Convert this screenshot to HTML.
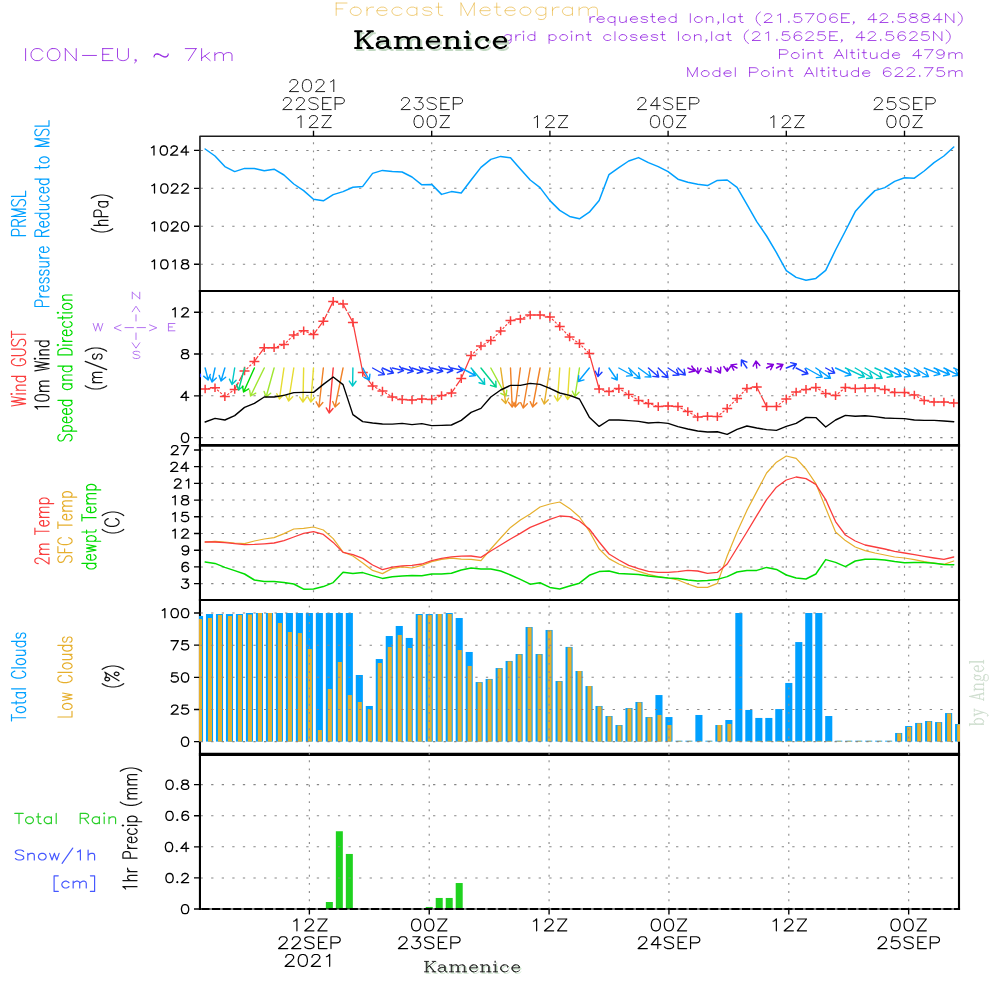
<!DOCTYPE html>
<html><head><meta charset="utf-8"><title>Forecast Meteogram Kamenice</title>
<style>html,body{margin:0;padding:0;background:#fff;font-family:"Liberation Sans",sans-serif}svg{display:block}</style></head>
<body>
<svg width="1000" height="1000" viewBox="0 0 1000 1000" fill="none" stroke-linecap="round" stroke-linejoin="round">
<rect width="1000" height="1000" fill="#fff" stroke="none"/>
<defs>
<clipPath id="cp0"><rect x="200.2" y="136.3" width="759.0" height="154.7"/></clipPath>
<clipPath id="cp1"><rect x="200.2" y="291.0" width="759.0" height="154.35000000000002"/></clipPath>
<clipPath id="cp2"><rect x="200.2" y="445.35" width="759.0" height="154.64999999999998"/></clipPath>
<clipPath id="cp3"><rect x="200.2" y="600.0" width="759.0" height="154.39999999999998"/></clipPath>
<clipPath id="cp4"><rect x="200.2" y="754.4" width="759.0" height="154.60000000000002"/></clipPath>
<clipPath id="cpb"><rect x="198.9" y="600" width="761.2" height="154"/></clipPath>
</defs>
<g clip-path="url(#cp4)" stroke="none">
<rect x="325.85" y="902" width="7" height="7" fill="#1fd21f"/>
<rect x="335.84" y="831.25" width="7" height="77.75" fill="#1fd21f"/>
<rect x="345.83" y="853.95" width="7" height="55.05" fill="#1fd21f"/>
<rect x="425.73" y="906.98" width="7" height="2.02" fill="#1fd21f"/>
<rect x="435.72" y="897.96" width="7" height="11.04" fill="#1fd21f"/>
<rect x="445.71" y="897.96" width="7" height="11.04" fill="#1fd21f"/>
<rect x="455.7" y="883.03" width="7" height="25.97" fill="#1fd21f"/>
</g>
<path d="M200.58 150.4H959.2" stroke="#868686" stroke-width="1.05" stroke-dasharray="2.3 8.266" stroke-linecap="butt"/>
<path d="M200.58 188.34H959.2" stroke="#868686" stroke-width="1.05" stroke-dasharray="2.3 8.266" stroke-linecap="butt"/>
<path d="M200.58 226.28H959.2" stroke="#868686" stroke-width="1.05" stroke-dasharray="2.3 8.266" stroke-linecap="butt"/>
<path d="M200.58 264.22H959.2" stroke="#868686" stroke-width="1.05" stroke-dasharray="2.3 8.266" stroke-linecap="butt"/>
<path d="M200.58 312.2H959.2" stroke="#868686" stroke-width="1.05" stroke-dasharray="2.3 8.266" stroke-linecap="butt"/>
<path d="M200.58 354H959.2" stroke="#868686" stroke-width="1.05" stroke-dasharray="2.3 8.266" stroke-linecap="butt"/>
<path d="M200.58 395.8H959.2" stroke="#868686" stroke-width="1.05" stroke-dasharray="2.3 8.266" stroke-linecap="butt"/>
<path d="M200.58 437.6H959.2" stroke="#868686" stroke-width="1.05" stroke-dasharray="2.3 8.266" stroke-linecap="butt"/>
<path d="M200.58 583.6H959.2" stroke="#868686" stroke-width="1.05" stroke-dasharray="2.3 8.266" stroke-linecap="butt"/>
<path d="M200.58 566.9H959.2" stroke="#868686" stroke-width="1.05" stroke-dasharray="2.3 8.266" stroke-linecap="butt"/>
<path d="M200.58 550.2H959.2" stroke="#868686" stroke-width="1.05" stroke-dasharray="2.3 8.266" stroke-linecap="butt"/>
<path d="M200.58 533.5H959.2" stroke="#868686" stroke-width="1.05" stroke-dasharray="2.3 8.266" stroke-linecap="butt"/>
<path d="M200.58 516.79H959.2" stroke="#868686" stroke-width="1.05" stroke-dasharray="2.3 8.266" stroke-linecap="butt"/>
<path d="M200.58 500.09H959.2" stroke="#868686" stroke-width="1.05" stroke-dasharray="2.3 8.266" stroke-linecap="butt"/>
<path d="M200.58 483.39H959.2" stroke="#868686" stroke-width="1.05" stroke-dasharray="2.3 8.266" stroke-linecap="butt"/>
<path d="M200.58 466.69H959.2" stroke="#868686" stroke-width="1.05" stroke-dasharray="2.3 8.266" stroke-linecap="butt"/>
<path d="M200.58 449.99H959.2" stroke="#868686" stroke-width="1.05" stroke-dasharray="2.3 8.266" stroke-linecap="butt"/>
<path d="M200.58 784.6H959.2" stroke="#868686" stroke-width="1.05" stroke-dasharray="2.3 8.266" stroke-linecap="butt"/>
<path d="M200.58 815.7H959.2" stroke="#868686" stroke-width="1.05" stroke-dasharray="2.3 8.266" stroke-linecap="butt"/>
<path d="M200.58 846.8H959.2" stroke="#868686" stroke-width="1.05" stroke-dasharray="2.3 8.266" stroke-linecap="butt"/>
<path d="M200.58 877.9H959.2" stroke="#868686" stroke-width="1.05" stroke-dasharray="2.3 8.266" stroke-linecap="butt"/>
<path d="M313.5 291.37V136.3" stroke="#8e8e8e" stroke-width="1.15" stroke-dasharray="1.9 6.28" stroke-linecap="butt"/>
<path d="M313.5 445.72V291" stroke="#8e8e8e" stroke-width="1.15" stroke-dasharray="1.9 6.28" stroke-linecap="butt"/>
<path d="M313.5 600.37V445.35" stroke="#8e8e8e" stroke-width="1.15" stroke-dasharray="1.9 6.28" stroke-linecap="butt"/>
<path d="M431.7 291.37V136.3" stroke="#8e8e8e" stroke-width="1.15" stroke-dasharray="1.9 6.28" stroke-linecap="butt"/>
<path d="M431.7 445.72V291" stroke="#8e8e8e" stroke-width="1.15" stroke-dasharray="1.9 6.28" stroke-linecap="butt"/>
<path d="M431.7 600.37V445.35" stroke="#8e8e8e" stroke-width="1.15" stroke-dasharray="1.9 6.28" stroke-linecap="butt"/>
<path d="M549.9 291.37V136.3" stroke="#8e8e8e" stroke-width="1.15" stroke-dasharray="1.9 6.28" stroke-linecap="butt"/>
<path d="M549.9 445.72V291" stroke="#8e8e8e" stroke-width="1.15" stroke-dasharray="1.9 6.28" stroke-linecap="butt"/>
<path d="M549.9 600.37V445.35" stroke="#8e8e8e" stroke-width="1.15" stroke-dasharray="1.9 6.28" stroke-linecap="butt"/>
<path d="M668.1 291.37V136.3" stroke="#8e8e8e" stroke-width="1.15" stroke-dasharray="1.9 6.28" stroke-linecap="butt"/>
<path d="M668.1 445.72V291" stroke="#8e8e8e" stroke-width="1.15" stroke-dasharray="1.9 6.28" stroke-linecap="butt"/>
<path d="M668.1 600.37V445.35" stroke="#8e8e8e" stroke-width="1.15" stroke-dasharray="1.9 6.28" stroke-linecap="butt"/>
<path d="M786.3 291.37V136.3" stroke="#8e8e8e" stroke-width="1.15" stroke-dasharray="1.9 6.28" stroke-linecap="butt"/>
<path d="M786.3 445.72V291" stroke="#8e8e8e" stroke-width="1.15" stroke-dasharray="1.9 6.28" stroke-linecap="butt"/>
<path d="M786.3 600.37V445.35" stroke="#8e8e8e" stroke-width="1.15" stroke-dasharray="1.9 6.28" stroke-linecap="butt"/>
<path d="M904.5 291.37V136.3" stroke="#8e8e8e" stroke-width="1.15" stroke-dasharray="1.9 6.28" stroke-linecap="butt"/>
<path d="M904.5 445.72V291" stroke="#8e8e8e" stroke-width="1.15" stroke-dasharray="1.9 6.28" stroke-linecap="butt"/>
<path d="M904.5 600.37V445.35" stroke="#8e8e8e" stroke-width="1.15" stroke-dasharray="1.9 6.28" stroke-linecap="butt"/>
<path d="M309.38 909.37V754.4" stroke="#8e8e8e" stroke-width="1.15" stroke-dasharray="1.9 6.28" stroke-linecap="butt"/>
<path d="M429.23 909.37V754.4" stroke="#8e8e8e" stroke-width="1.15" stroke-dasharray="1.9 6.28" stroke-linecap="butt"/>
<path d="M549.09 909.37V754.4" stroke="#8e8e8e" stroke-width="1.15" stroke-dasharray="1.9 6.28" stroke-linecap="butt"/>
<path d="M668.95 909.37V754.4" stroke="#8e8e8e" stroke-width="1.15" stroke-dasharray="1.9 6.28" stroke-linecap="butt"/>
<path d="M788.8 909.37V754.4" stroke="#8e8e8e" stroke-width="1.15" stroke-dasharray="1.9 6.28" stroke-linecap="butt"/>
<path d="M908.66 909.37V754.4" stroke="#8e8e8e" stroke-width="1.15" stroke-dasharray="1.9 6.28" stroke-linecap="butt"/>
<path d="M205.15 149 215 156 224.85 166.6 234.7 171.6 244.55 168.4 254.4 168.6 264.25 170.8 274.1 169.2 283.95 175 293.8 184 303.65 190.6 313.5 199.2 323.35 200.8 333.2 194.6 343.05 191.6 352.9 187.2 362.75 186.4 372.6 173.4 382.45 170.4 392.3 171.6 402.15 172 412 177 421.85 184.8 431.7 184.4 441.55 194.4 451.4 191.6 461.25 193 471.1 180 480.95 167.4 490.8 159.4 500.65 156.4 510.5 157.8 520.35 169 530.2 180 540.05 187.6 549.9 200.6 559.75 210.4 569.6 216.4 579.45 218.8 589.3 212.2 599.15 200.4 609 174.6 618.85 167.6 628.7 161 638.55 157.6 648.4 162.6 658.25 166.6 668.1 171.6 677.95 179.2 687.8 182.2 697.65 184.2 707.5 185.6 717.35 180.4 727.2 180 737.05 187.4 746.9 204.4 756.75 221.6 766.6 236 776.45 252.7 786.3 270.6 796.15 277.4 806 280.2 815.85 278.4 825.7 270.4 835.55 250 845.4 231 855.25 211.6 865.1 200.4 874.95 190.6 884.8 187.6 894.65 181.4 904.5 177.8 914.35 178.2 924.2 171 934.05 162.6 943.9 156 953.75 147" stroke="#00a0ff" stroke-width="1.5"/>
<g clip-path="url(#cp1)">
<path d="M234.7 389.4L238.44 382.41M239.25 380.91L244.55 371M254.4 361.4L258.14 356.23M259.14 354.86L264.25 347.8M313.5 334.4L317.24 329.38M318.26 328.02L323.35 321.2M323.35 321.2L327.09 313.68M327.85 312.15L333.2 301.4M343.05 304L346.79 310.99M347.6 312.49L352.9 322.4M352.9 322.4L362.75 372.4M362.75 372.4L366.49 377.57M367.49 378.94L372.6 386M451.4 393L455.14 387.53M456.1 386.12L461.25 378.6M461.25 378.6L471.1 355.4M589.3 353.6L599.15 389M756.75 387L760.49 394.45M761.26 395.97L766.6 406.6" stroke="#fa3c3c" stroke-width="1.25" stroke-linecap="butt"/>
<path d="M205.15 389L215 387.8M215 387.8L224.85 396.6M224.85 396.6L234.7 389.4M244.55 371L254.4 361.4M264.25 347.8L274.1 347.8M274.1 347.8L283.95 344.6M283.95 344.6L293.8 335M293.8 335L303.65 330.8M303.65 330.8L313.5 334.4M333.2 301.4L343.05 304M372.6 386L382.45 391M382.45 391L392.3 397M392.3 397L402.15 399.6M402.15 399.6L412 400M412 400L421.85 399M421.85 399L431.7 399.4M431.7 399.4L441.55 395.6M441.55 395.6L451.4 393M471.1 355.4L480.95 346M480.95 346L490.8 340.4M490.8 340.4L500.65 331M500.65 331L510.5 320.6M510.5 320.6L520.35 319M520.35 319L530.2 315M530.2 315L540.05 315M540.05 315L549.9 317M549.9 317L559.75 326.4M559.75 326.4L569.6 337M569.6 337L579.45 343.6M579.45 343.6L589.3 353.6M599.15 389L609 391.6M609 391.6L618.85 388.6M618.85 388.6L628.7 394.6M628.7 394.6L638.55 400.4M638.55 400.4L648.4 403.4M648.4 403.4L658.25 406.6M658.25 406.6L668.1 406M668.1 406L677.95 406.6M677.95 406.6L687.8 411.6M687.8 411.6L697.65 417M697.65 417L707.5 416.2M707.5 416.2L717.35 416.6M717.35 416.6L727.2 408.4M727.2 408.4L737.05 398.6M737.05 398.6L746.9 388.4M746.9 388.4L756.75 387M766.6 406.6L776.45 406.4M776.45 406.4L786.3 399M786.3 399L796.15 392M796.15 392L806 389.4M806 389.4L815.85 387.4M815.85 387.4L825.7 393.4M825.7 393.4L835.55 395.6M835.55 395.6L845.4 387.6M845.4 387.6L855.25 388.6M855.25 388.6L865.1 388.2M865.1 388.2L874.95 388M874.95 388L884.8 389.6M884.8 389.6L894.65 392.4M894.65 392.4L904.5 392.6M904.5 392.6L914.35 395M914.35 395L924.2 400.4M924.2 400.4L934.05 402M934.05 402L943.9 402M943.9 402L953.75 403" stroke="#fa3c3c" stroke-width="1.15" stroke-dasharray="2.4 1.5" stroke-dashoffset="1" stroke-linecap="butt"/>
<path d="M200.15 389h10M205.15 384.7v8.6M210 387.8h10M215 383.5v8.6M219.85 396.6h10M224.85 392.3v8.6M229.7 389.4h10M234.7 385.1v8.6M239.55 371h10M244.55 366.7v8.6M249.4 361.4h10M254.4 357.1v8.6M259.25 347.8h10M264.25 343.5v8.6M269.1 347.8h10M274.1 343.5v8.6M278.95 344.6h10M283.95 340.3v8.6M288.8 335h10M293.8 330.7v8.6M298.65 330.8h10M303.65 326.5v8.6M308.5 334.4h10M313.5 330.1v8.6M318.35 321.2h10M323.35 316.9v8.6M328.2 301.4h10M333.2 297.1v8.6M338.05 304h10M343.05 299.7v8.6M347.9 322.4h10M352.9 318.1v8.6M357.75 372.4h10M362.75 368.1v8.6M367.6 386h10M372.6 381.7v8.6M377.45 391h10M382.45 386.7v8.6M387.3 397h10M392.3 392.7v8.6M397.15 399.6h10M402.15 395.3v8.6M407 400h10M412 395.7v8.6M416.85 399h10M421.85 394.7v8.6M426.7 399.4h10M431.7 395.1v8.6M436.55 395.6h10M441.55 391.3v8.6M446.4 393h10M451.4 388.7v8.6M456.25 378.6h10M461.25 374.3v8.6M466.1 355.4h10M471.1 351.1v8.6M475.95 346h10M480.95 341.7v8.6M485.8 340.4h10M490.8 336.1v8.6M495.65 331h10M500.65 326.7v8.6M505.5 320.6h10M510.5 316.3v8.6M515.35 319h10M520.35 314.7v8.6M525.2 315h10M530.2 310.7v8.6M535.05 315h10M540.05 310.7v8.6M544.9 317h10M549.9 312.7v8.6M554.75 326.4h10M559.75 322.1v8.6M564.6 337h10M569.6 332.7v8.6M574.45 343.6h10M579.45 339.3v8.6M584.3 353.6h10M589.3 349.3v8.6M594.15 389h10M599.15 384.7v8.6M604 391.6h10M609 387.3v8.6M613.85 388.6h10M618.85 384.3v8.6M623.7 394.6h10M628.7 390.3v8.6M633.55 400.4h10M638.55 396.1v8.6M643.4 403.4h10M648.4 399.1v8.6M653.25 406.6h10M658.25 402.3v8.6M663.1 406h10M668.1 401.7v8.6M672.95 406.6h10M677.95 402.3v8.6M682.8 411.6h10M687.8 407.3v8.6M692.65 417h10M697.65 412.7v8.6M702.5 416.2h10M707.5 411.9v8.6M712.35 416.6h10M717.35 412.3v8.6M722.2 408.4h10M727.2 404.1v8.6M732.05 398.6h10M737.05 394.3v8.6M741.9 388.4h10M746.9 384.1v8.6M751.75 387h10M756.75 382.7v8.6M761.6 406.6h10M766.6 402.3v8.6M771.45 406.4h10M776.45 402.1v8.6M781.3 399h10M786.3 394.7v8.6M791.15 392h10M796.15 387.7v8.6M801 389.4h10M806 385.1v8.6M810.85 387.4h10M815.85 383.1v8.6M820.7 393.4h10M825.7 389.1v8.6M830.55 395.6h10M835.55 391.3v8.6M840.4 387.6h10M845.4 383.3v8.6M850.25 388.6h10M855.25 384.3v8.6M860.1 388.2h10M865.1 383.9v8.6M869.95 388h10M874.95 383.7v8.6M879.8 389.6h10M884.8 385.3v8.6M889.65 392.4h10M894.65 388.1v8.6M899.5 392.6h10M904.5 388.3v8.6M909.35 395h10M914.35 390.7v8.6M919.2 400.4h10M924.2 396.1v8.6M929.05 402h10M934.05 397.7v8.6M938.9 402h10M943.9 397.7v8.6M948.75 403h10M953.75 398.7v8.6" stroke="#fa3c3c" stroke-width="1.5" stroke-linecap="butt"/>
<path d="M205.15 368L208.15 380M210.26 374.49L208.15 380M203.69 376.13L208.15 380" stroke="#00a0ff" stroke-width="1.42"/>
<path d="M215 368L212 382M216.32 377.98L212 382M209.7 376.57L212 382" stroke="#00a0ff" stroke-width="1.42"/>
<path d="M224.85 368L221.05 381M225.65 377.31L221.05 381M219.16 375.41L221.05 381" stroke="#00a0ff" stroke-width="1.42"/>
<path d="M234.7 368L232 384.5M236.12 380.28L232 384.5M229.44 379.18L232 384.5" stroke="#00c8c8" stroke-width="1.42"/>
<path d="M244.55 368L238.55 390M243.09 386.23L238.55 390M236.56 384.45L238.55 390" stroke="#00d28c" stroke-width="1.42"/>
<path d="M254.4 368L243.6 392M248.67 388.98L243.6 392M242.5 386.2L243.6 392" stroke="#00dc00" stroke-width="1.42"/>
<path d="M264.25 368L250.55 396M255.71 393.15L250.55 396M249.63 390.17L250.55 396" stroke="#a0e632" stroke-width="1.42"/>
<path d="M274.1 368L266.1 397M270.65 393.24L266.1 397M264.12 391.44L266.1 397" stroke="#a0e632" stroke-width="1.42"/>
<path d="M283.95 368L279.45 399M283.49 394.7L279.45 399M276.8 393.73L279.45 399" stroke="#e6dc32" stroke-width="1.42"/>
<path d="M293.8 368L288.6 401M292.7 396.75L288.6 401M286.01 395.7L288.6 401" stroke="#e6dc32" stroke-width="1.42"/>
<path d="M303.65 368L302.95 402M306.43 397.24L302.95 402M299.67 397.1L302.95 402" stroke="#e6dc32" stroke-width="1.42"/>
<path d="M313.5 368L310.8 402M314.56 397.45L310.8 402M307.81 396.91L310.8 402" stroke="#e6dc32" stroke-width="1.42"/>
<path d="M323.35 368L318.95 407M322.85 402.58L318.95 407M316.13 401.82L318.95 407" stroke="#f08228" stroke-width="1.42"/>
<path d="M333.2 368L329.2 413M333 408.49L329.2 413M326.26 407.89L329.2 413" stroke="#fa3c3c" stroke-width="1.42"/>
<path d="M343.05 368L335.05 407M339.34 402.95L335.05 407M332.71 401.59L335.05 407" stroke="#f08228" stroke-width="1.42"/>
<path d="M352.9 368L352.6 386M356.06 381.22L352.6 386M349.3 381.11L352.6 386" stroke="#00c8c8" stroke-width="1.42"/>
<path d="M362.75 368L369.25 380M369.92 374.14L369.25 380M363.97 377.36L369.25 380" stroke="#00a0ff" stroke-width="1.42"/>
<path d="M372.6 368L384.4 374.5M381.8 369.2L384.4 374.5M378.53 375.13L384.4 374.5" stroke="#1e3cff" stroke-width="1.42"/>
<path d="M382.45 368L393.45 373M390.45 367.92L393.45 373M387.65 374.08L393.45 373" stroke="#1e3cff" stroke-width="1.42"/>
<path d="M392.3 368L403.49 370.67M399.57 366.25L403.49 370.67M398 372.84L403.49 370.67" stroke="#1e3cff" stroke-width="1.42"/>
<path d="M402.15 368L413.18 371.27M409.5 366.65L413.18 371.27M407.58 373.14L413.18 371.27" stroke="#1e3cff" stroke-width="1.42"/>
<path d="M412 368L422.94 371.55M419.39 366.84L422.94 371.55M417.29 373.28L422.94 371.55" stroke="#1e3cff" stroke-width="1.42"/>
<path d="M421.85 368L432.88 371.25M429.2 366.64L432.88 371.25M427.29 373.13L432.88 371.25" stroke="#1e3cff" stroke-width="1.42"/>
<path d="M431.7 368L442.73 371.25M439.05 366.64L442.73 371.25M437.14 373.13L442.73 371.25" stroke="#1e3cff" stroke-width="1.42"/>
<path d="M441.55 368L452.78 370.47M448.79 366.13L452.78 370.47M447.33 372.74L452.78 370.47" stroke="#1e3cff" stroke-width="1.42"/>
<path d="M451.4 368L462.66 370.35M458.62 366.05L462.66 370.35M457.23 372.68L462.66 370.35" stroke="#1e3cff" stroke-width="1.42"/>
<path d="M461.25 368L475.45 375.5M472.76 370.25L475.45 375.5M469.6 376.24L475.45 375.5" stroke="#00a0ff" stroke-width="1.42"/>
<path d="M471.1 368L484.7 384.3M484.2 378.42L484.7 384.3M479.01 382.76L484.7 384.3" stroke="#00c8c8" stroke-width="1.42"/>
<path d="M480.95 368L496.15 387M495.77 381.11L496.15 387M490.49 385.34L496.15 387" stroke="#00d28c" stroke-width="1.42"/>
<path d="M490.8 368L506.1 396M506.75 390.14L506.1 396M500.81 393.38L506.1 396" stroke="#a0e632" stroke-width="1.42"/>
<path d="M500.65 368L505.75 403.5M508.41 398.23L505.75 403.5M501.71 399.2L505.75 403.5" stroke="#e6af2d" stroke-width="1.42"/>
<path d="M510.5 368L512.2 407M515.37 402.02L512.2 407M508.61 402.32L512.2 407" stroke="#f08228" stroke-width="1.42"/>
<path d="M520.35 368L515.25 407M519.23 402.65L515.25 407M512.52 401.77L515.25 407" stroke="#f08228" stroke-width="1.42"/>
<path d="M530.2 368L523.2 408M527.37 403.82L523.2 408M520.7 402.66L523.2 408" stroke="#f08228" stroke-width="1.42"/>
<path d="M540.05 368L532.65 407M536.88 402.88L532.65 407M530.23 401.62L532.65 407" stroke="#f08228" stroke-width="1.42"/>
<path d="M549.9 368L544.2 404M548.3 399.76L544.2 404M541.61 398.7L544.2 404" stroke="#e6af2d" stroke-width="1.42"/>
<path d="M559.75 368L557.45 401M561.16 396.41L557.45 401M554.41 395.94L557.45 401" stroke="#e6dc32" stroke-width="1.42"/>
<path d="M569.6 368L567.6 399.5M571.28 394.89L567.6 399.5M564.53 394.46L567.6 399.5" stroke="#e6dc32" stroke-width="1.42"/>
<path d="M579.45 368L574.95 396.5M579.05 392.25L574.95 396.5M572.36 391.2L574.95 396.5" stroke="#a0e632" stroke-width="1.42"/>
<path d="M589.3 368L578.3 381.5M583.98 379.89L578.3 381.5M578.73 375.62L578.3 381.5" stroke="#00a0ff" stroke-width="1.42"/>
<path d="M599.15 368L597.95 376.5M601.98 372.19L597.95 376.5M595.27 371.24L597.95 376.5" stroke="#1e3cff" stroke-width="1.42"/>
<path d="M609 368L617.2 380M617.27 374.1L617.2 380M611.68 377.92L617.2 380" stroke="#00a0ff" stroke-width="1.42"/>
<path d="M618.85 368L632.45 375.5M629.85 370.2L632.45 375.5M626.58 376.13L632.45 375.5" stroke="#00a0ff" stroke-width="1.42"/>
<path d="M628.7 368L639.9 378.5M638.69 372.73L639.9 378.5M634.06 377.66L639.9 378.5" stroke="#00a0ff" stroke-width="1.42"/>
<path d="M638.55 368L650.95 377M649.03 371.42L650.95 377M645.05 376.9L650.95 377" stroke="#00a0ff" stroke-width="1.42"/>
<path d="M648.4 368L658.7 377M657.29 371.27L658.7 377M652.83 376.37L658.7 377" stroke="#1e3cff" stroke-width="1.42"/>
<path d="M658.25 368L667.95 377.5M666.87 371.7L667.95 377.5M662.13 376.54L667.95 377.5" stroke="#1e3cff" stroke-width="1.42"/>
<path d="M668.1 368L678.9 375M676.68 369.53L678.9 375M673 375.21L678.9 375" stroke="#1e3cff" stroke-width="1.42"/>
<path d="M677.95 368L685.25 375M684.1 369.21L685.25 375M679.42 374.1L685.25 375" stroke="#1e3cff" stroke-width="1.42"/>
<path d="M687.8 368L694.9 371M691.77 366L694.9 371M689.13 372.24L694.9 371" stroke="#8200dc" stroke-width="1.42"/>
<path d="M697.65 368L698.25 373.5M701.09 368.33L698.25 373.5M694.36 369.06L698.25 373.5" stroke="#8200dc" stroke-width="1.42"/>
<path d="M707.5 368L710.9 372.7M710.81 366.8L710.9 372.7M705.33 370.77L710.9 372.7" stroke="#8200dc" stroke-width="1.42"/>
<path d="M717.35 368L720.45 373M720.78 367.11L720.45 373M715.03 370.68L720.45 373" stroke="#8200dc" stroke-width="1.42"/>
<path d="M727.2 368L727.2 371.3M730.58 366.47L727.2 371.3M723.82 366.47L727.2 371.3" stroke="#8200dc" stroke-width="1.42"/>
<path d="M737.05 368L730.95 365M733.79 370.17L730.95 365M736.78 364.1L730.95 365" stroke="#8200dc" stroke-width="1.42"/>
<path d="M746.9 368L741.4 360M741.35 365.9L741.4 360M746.93 362.07L741.4 360" stroke="#1e3cff" stroke-width="1.42"/>
<path d="M756.75 368L755.95 361M753.14 366.19L755.95 361M759.86 365.42L755.95 361" stroke="#8200dc" stroke-width="1.42"/>
<path d="M766.6 368L773.4 364.5M767.55 363.7L773.4 364.5M770.65 369.72L773.4 364.5" stroke="#8200dc" stroke-width="1.42"/>
<path d="M776.45 368L782.95 364.5M777.09 363.81L782.95 364.5M780.3 369.77L782.95 364.5" stroke="#8200dc" stroke-width="1.42"/>
<path d="M786.3 368L796.4 364M790.66 362.63L796.4 364M793.15 368.93L796.4 364" stroke="#1e3cff" stroke-width="1.42"/>
<path d="M796.15 368L807.95 373.8M805.11 368.63L807.95 373.8M802.12 374.71L807.95 373.8" stroke="#1e3cff" stroke-width="1.42"/>
<path d="M806 368L822.2 377M819.62 371.69L822.2 377M816.33 377.61L822.2 377" stroke="#00a0ff" stroke-width="1.42"/>
<path d="M815.85 368L830.45 378.2M828.43 372.66L830.45 378.2M824.55 378.21L830.45 378.2" stroke="#00a0ff" stroke-width="1.42"/>
<path d="M825.7 368L834.7 373M832.12 367.69L834.7 373M828.83 373.61L834.7 373" stroke="#1e3cff" stroke-width="1.42"/>
<path d="M835.55 368L850.95 375M847.95 369.92L850.95 375M845.15 376.08L850.95 375" stroke="#00a0ff" stroke-width="1.42"/>
<path d="M845.4 368L864.4 376.8M861.44 371.7L864.4 376.8M858.59 377.84L864.4 376.8" stroke="#00c8c8" stroke-width="1.42"/>
<path d="M855.25 368L872.45 378M869.97 372.65L872.45 378M866.57 378.5L872.45 378" stroke="#00c8c8" stroke-width="1.42"/>
<path d="M865.1 368L882.2 378.2M879.78 372.82L882.2 378.2M876.32 378.63L882.2 378.2" stroke="#00c8c8" stroke-width="1.42"/>
<path d="M874.95 368L892.95 376.2M889.95 371.12L892.95 376.2M887.15 377.28L892.95 376.2" stroke="#00c8c8" stroke-width="1.42"/>
<path d="M884.8 368L901.2 376.2M898.39 371.01L901.2 376.2M895.36 377.07L901.2 376.2" stroke="#00a0ff" stroke-width="1.42"/>
<path d="M894.65 368L910.35 376.3M907.66 371.05L910.35 376.3M904.5 377.03L910.35 376.3" stroke="#00a0ff" stroke-width="1.42"/>
<path d="M904.5 368L919.9 375.2M916.96 370.09L919.9 375.2M914.09 376.22L919.9 375.2" stroke="#00a0ff" stroke-width="1.42"/>
<path d="M914.35 368L928.45 376.5M926.06 371.11L928.45 376.5M922.56 376.9L928.45 376.5" stroke="#00a0ff" stroke-width="1.42"/>
<path d="M924.2 368L939.9 374.2M936.65 369.28L939.9 374.2M934.16 375.57L939.9 374.2" stroke="#00a0ff" stroke-width="1.42"/>
<path d="M934.05 368L949.45 374.5M946.31 369.5L949.45 374.5M943.68 375.74L949.45 374.5" stroke="#00a0ff" stroke-width="1.42"/>
<path d="M943.9 368L958.4 375.2M955.58 370.02L958.4 375.2M952.57 376.08L958.4 375.2" stroke="#00a0ff" stroke-width="1.42"/>
<path d="M953.75 368L968.45 375M965.54 369.87L968.45 375M962.63 375.98L968.45 375" stroke="#00a0ff" stroke-width="1.42"/>
<path d="M205.15 422 215 418.4 224.85 420 234.7 415.6 244.55 407.4 254.4 403.4 264.25 397 274.1 397 283.95 395.4 293.8 392.6 303.65 392.4 313.5 392.4 323.35 384.4 333.2 377 343.05 384.6 352.9 414.6 362.75 421.6 372.6 423 382.45 424 392.3 424.1 402.15 423.4 412 424.6 421.85 423.6 431.7 425.6 441.55 425.4 451.4 425 461.25 420.4 471.1 412.4 480.95 408.4 490.8 397 500.65 390 510.5 385.4 520.35 385.4 530.2 383.4 540.05 384.4 549.9 388.4 559.75 393 569.6 395.4 579.45 399 589.3 417.2 599.15 426.4 609 420 618.85 420 628.7 420.6 638.55 421.4 648.4 423 658.25 422.4 668.1 423.4 677.95 426.6 687.8 429 697.65 431 707.5 432 717.35 431.8 727.2 434.4 737.05 429.4 746.9 426 756.75 428 766.6 429.6 776.45 430.4 786.3 426.4 796.15 423.4 806 417.4 815.85 417.6 825.7 427 835.55 420 845.4 415.4 855.25 416.2 865.1 415.8 874.95 416.6 884.8 418 894.65 418.4 904.5 418.6 914.35 420 924.2 420.4 934.05 420.4 943.9 421 953.75 421.8" stroke="#000" stroke-width="1.4"/>
</g>
<path d="M205.15 542 215 541.4 224.85 542 234.7 543 244.55 543.6 254.4 541 264.25 539 274.1 537.6 283.95 533.6 293.8 529 303.65 528.4 313.5 527 323.35 530 333.2 538.6 343.05 552 352.9 556 362.75 563 372.6 570.4 382.45 573.6 392.3 568.4 402.15 566.8 412 568 421.85 565.4 431.7 561.6 441.55 559.4 451.4 558.2 461.25 559.2 471.1 559.4 480.95 560.6 490.8 549 500.65 538 510.5 527.4 520.35 520 530.2 514 540.05 507 549.9 504 559.75 502 569.6 508.4 579.45 517 589.3 531.2 599.15 549 609 558.6 618.85 564 628.7 568 638.55 571.4 648.4 574.4 658.25 576.6 668.1 578 677.95 580 687.8 584 697.65 587.4 707.5 587.4 717.35 583.4 727.2 556 737.05 532 746.9 510.4 756.75 491.6 766.6 473 776.45 462.2 786.3 456 796.15 458.4 806 469 815.85 483.6 825.7 508 835.55 532 845.4 540.6 855.25 547 865.1 550.6 874.95 553 884.8 555 894.65 557 904.5 558 914.35 559.6 924.2 561.6 934.05 563 943.9 564.4 953.75 561" stroke="#e6af2d" stroke-width="1.2"/>
<path d="M205.15 542 215 542 224.85 542.6 234.7 543.6 244.55 544.6 254.4 544.4 264.25 543.8 274.1 543 283.95 540.6 293.8 537 303.65 533.4 313.5 531.6 323.35 534.4 333.2 542.4 343.05 552.4 352.9 554.6 362.75 558.4 372.6 565 382.45 569.6 392.3 567.2 402.15 565.8 412 565.4 421.85 564 431.7 560.6 441.55 558.4 451.4 556.8 461.25 556.2 471.1 556 480.95 557.4 490.8 551 500.65 545 510.5 539 520.35 533.4 530.2 527.4 540.05 523.4 549.9 519.4 559.75 516 569.6 516.6 579.45 521 589.3 529 599.15 542 609 554 618.85 560 628.7 565.4 638.55 568.6 648.4 571.4 658.25 572.4 668.1 572.4 677.95 571.6 687.8 570.4 697.65 571 707.5 573.4 717.35 572.4 727.2 564 737.05 548 746.9 532 756.75 515.6 766.6 499.6 776.45 487.2 786.3 480 796.15 477 806 478.6 815.85 484.4 825.7 499.6 835.55 521.6 845.4 535 855.25 541 865.1 545 874.95 547 884.8 549 894.65 551.4 904.5 553 914.35 554.6 924.2 556.4 934.05 558 943.9 559.4 953.75 557" stroke="#fa3c3c" stroke-width="1.3"/>
<path d="M205.15 562 215 563.4 224.85 567.4 234.7 570.6 244.55 574 254.4 580 264.25 581.6 274.1 581.6 283.95 582.4 293.8 584 303.65 589.2 313.5 589 323.35 586.6 333.2 582.6 343.05 572.2 352.9 573.4 362.75 572.6 372.6 575.6 382.45 578.4 392.3 576.7 402.15 575.9 412 575.4 421.85 575.8 431.7 574 441.55 574 451.4 573.2 461.25 570 471.1 568 480.95 569 490.8 569 500.65 571 510.5 575 520.35 579.4 530.2 584.2 540.05 582.8 549.9 587.4 559.75 589 569.6 586 579.45 583.2 589.3 575.3 599.15 571.6 609 571 618.85 573.4 628.7 574 638.55 574.6 648.4 576 658.25 577 668.1 578 677.95 578.4 687.8 580 697.65 581 707.5 580.6 717.35 579.4 727.2 576.6 737.05 572 746.9 570.4 756.75 570.4 766.6 567.4 776.45 569.4 786.3 575 796.15 578 806 579 815.85 574 825.7 559.6 835.55 562.4 845.4 566.6 855.25 561 865.1 559.2 874.95 559.2 884.8 560 894.65 561.6 904.5 562.8 914.35 562.4 924.2 562.4 934.05 563.2 943.9 564.4 953.75 564.8" stroke="#00dc00" stroke-width="1.5"/>
<path d="M199.95 291V136.3H958.9V291" stroke="#1c1c1c" stroke-width="1.6" stroke-linecap="butt" stroke-linejoin="round"/>
<path d="M199.95 290V910M959.0 290V910" stroke="#000" stroke-width="2.1" stroke-linecap="butt"/>
<path d="M198.89999999999998 291H960.05" stroke="#000" stroke-width="2.1" stroke-linecap="butt"/>
<path d="M198.89999999999998 445.35H960.05" stroke="#000" stroke-width="2.9" stroke-linecap="butt"/>
<path d="M198.89999999999998 600H960.05" stroke="#000" stroke-width="2.2" stroke-linecap="butt"/>
<path d="M198.89999999999998 754.4H960.05" stroke="#000" stroke-width="3.1" stroke-linecap="butt"/>
<path d="M198.89999999999998 909H960.05" stroke="#000" stroke-width="1.1" stroke-linecap="butt"/>
<path d="M201.4 909H960.05" stroke="#000" stroke-width="2.1" stroke-dasharray="8.1 2.5" stroke-linecap="butt"/>
<g clip-path="url(#cpb)" stroke="none">
<rect x="195.96" y="615.96" width="7.1" height="125.64" fill="#00a0ff"/>
<rect x="205.95" y="614.03" width="7.1" height="127.57" fill="#00a0ff"/>
<rect x="215.94" y="614.03" width="7.1" height="127.57" fill="#00a0ff"/>
<rect x="225.92" y="614.03" width="7.1" height="127.57" fill="#00a0ff"/>
<rect x="235.91" y="614.03" width="7.1" height="127.57" fill="#00a0ff"/>
<rect x="245.9" y="613" width="7.1" height="128.6" fill="#00a0ff"/>
<rect x="255.89" y="613" width="7.1" height="128.6" fill="#00a0ff"/>
<rect x="265.88" y="613" width="7.1" height="128.6" fill="#00a0ff"/>
<rect x="275.86" y="613" width="7.1" height="128.6" fill="#00a0ff"/>
<rect x="285.85" y="613" width="7.1" height="128.6" fill="#00a0ff"/>
<rect x="295.84" y="613" width="7.1" height="128.6" fill="#00a0ff"/>
<rect x="305.83" y="613" width="7.1" height="128.6" fill="#00a0ff"/>
<rect x="315.82" y="613" width="7.1" height="128.6" fill="#00a0ff"/>
<rect x="325.8" y="613" width="7.1" height="128.6" fill="#00a0ff"/>
<rect x="335.79" y="613" width="7.1" height="128.6" fill="#00a0ff"/>
<rect x="345.78" y="613" width="7.1" height="128.6" fill="#00a0ff"/>
<rect x="355.77" y="674.99" width="7.1" height="66.61" fill="#00a0ff"/>
<rect x="365.76" y="705.98" width="7.1" height="35.62" fill="#00a0ff"/>
<rect x="375.74" y="659.04" width="7.1" height="82.56" fill="#00a0ff"/>
<rect x="385.73" y="636.02" width="7.1" height="105.58" fill="#00a0ff"/>
<rect x="395.72" y="625.99" width="7.1" height="115.61" fill="#00a0ff"/>
<rect x="405.71" y="637.95" width="7.1" height="103.65" fill="#00a0ff"/>
<rect x="415.7" y="614.03" width="7.1" height="127.57" fill="#00a0ff"/>
<rect x="425.68" y="614.03" width="7.1" height="127.57" fill="#00a0ff"/>
<rect x="435.67" y="614.03" width="7.1" height="127.57" fill="#00a0ff"/>
<rect x="445.66" y="613" width="7.1" height="128.6" fill="#00a0ff"/>
<rect x="455.65" y="618.02" width="7.1" height="123.58" fill="#00a0ff"/>
<rect x="465.64" y="651.97" width="7.1" height="89.63" fill="#00a0ff"/>
<rect x="475.62" y="682.06" width="7.1" height="59.54" fill="#00a0ff"/>
<rect x="485.61" y="678.97" width="7.1" height="62.63" fill="#00a0ff"/>
<rect x="495.6" y="668.04" width="7.1" height="73.56" fill="#00a0ff"/>
<rect x="505.59" y="660.97" width="7.1" height="80.63" fill="#00a0ff"/>
<rect x="515.58" y="654.02" width="7.1" height="87.58" fill="#00a0ff"/>
<rect x="525.56" y="627.02" width="7.1" height="114.58" fill="#00a0ff"/>
<rect x="535.55" y="654.02" width="7.1" height="87.58" fill="#00a0ff"/>
<rect x="545.54" y="629.98" width="7.1" height="111.62" fill="#00a0ff"/>
<rect x="555.53" y="681.03" width="7.1" height="60.57" fill="#00a0ff"/>
<rect x="565.52" y="646.95" width="7.1" height="94.65" fill="#00a0ff"/>
<rect x="575.5" y="671" width="7.1" height="70.6" fill="#00a0ff"/>
<rect x="585.49" y="686.04" width="7.1" height="55.56" fill="#00a0ff"/>
<rect x="595.48" y="705.98" width="7.1" height="35.62" fill="#00a0ff"/>
<rect x="605.47" y="716.01" width="7.1" height="25.59" fill="#00a0ff"/>
<rect x="615.46" y="725.01" width="7.1" height="16.59" fill="#00a0ff"/>
<rect x="625.44" y="708.04" width="7.1" height="33.56" fill="#00a0ff"/>
<rect x="635.43" y="701.99" width="7.1" height="39.61" fill="#00a0ff"/>
<rect x="645.42" y="717.04" width="7.1" height="24.56" fill="#00a0ff"/>
<rect x="655.41" y="695.05" width="7.1" height="46.55" fill="#00a0ff"/>
<rect x="665.4" y="717.04" width="7.1" height="24.56" fill="#00a0ff"/>
<rect x="675.38" y="740.7" width="7.1" height="0.9" fill="#00a0ff"/>
<rect x="685.37" y="740.7" width="7.1" height="0.9" fill="#00a0ff"/>
<rect x="695.36" y="714.98" width="7.1" height="26.62" fill="#00a0ff"/>
<rect x="705.35" y="740.7" width="7.1" height="0.9" fill="#00a0ff"/>
<rect x="715.34" y="725.01" width="7.1" height="16.59" fill="#00a0ff"/>
<rect x="725.32" y="720" width="7.1" height="21.6" fill="#00a0ff"/>
<rect x="735.31" y="613" width="7.1" height="128.6" fill="#00a0ff"/>
<rect x="745.3" y="709.96" width="7.1" height="31.64" fill="#00a0ff"/>
<rect x="755.29" y="717.94" width="7.1" height="23.66" fill="#00a0ff"/>
<rect x="765.28" y="717.94" width="7.1" height="23.66" fill="#00a0ff"/>
<rect x="775.26" y="709.06" width="7.1" height="32.54" fill="#00a0ff"/>
<rect x="785.25" y="682.96" width="7.1" height="58.64" fill="#00a0ff"/>
<rect x="795.24" y="642.06" width="7.1" height="99.54" fill="#00a0ff"/>
<rect x="805.23" y="613" width="7.1" height="128.6" fill="#00a0ff"/>
<rect x="815.22" y="613" width="7.1" height="128.6" fill="#00a0ff"/>
<rect x="825.2" y="716.01" width="7.1" height="25.59" fill="#00a0ff"/>
<rect x="835.19" y="740.7" width="7.1" height="0.9" fill="#00a0ff"/>
<rect x="845.18" y="740.7" width="7.1" height="0.9" fill="#00a0ff"/>
<rect x="855.17" y="740.7" width="7.1" height="0.9" fill="#00a0ff"/>
<rect x="865.16" y="740.7" width="7.1" height="0.9" fill="#00a0ff"/>
<rect x="875.14" y="740.7" width="7.1" height="0.9" fill="#00a0ff"/>
<rect x="885.13" y="740.7" width="7.1" height="0.9" fill="#00a0ff"/>
<rect x="895.12" y="732.98" width="7.1" height="8.62" fill="#00a0ff"/>
<rect x="905.11" y="726.04" width="7.1" height="15.56" fill="#00a0ff"/>
<rect x="915.1" y="722.95" width="7.1" height="18.65" fill="#00a0ff"/>
<rect x="925.08" y="721.02" width="7.1" height="20.58" fill="#00a0ff"/>
<rect x="935.07" y="722.05" width="7.1" height="19.55" fill="#00a0ff"/>
<rect x="945.06" y="713.05" width="7.1" height="28.55" fill="#00a0ff"/>
<rect x="955.05" y="723.98" width="7.1" height="17.62" fill="#00a0ff"/>
<rect x="198.01" y="619.04" width="4.0" height="122.56" fill="#e6af2d"/>
<rect x="208" y="618.02" width="4.0" height="123.58" fill="#e6af2d"/>
<rect x="217.99" y="615.06" width="4.0" height="126.54" fill="#e6af2d"/>
<rect x="227.97" y="615.96" width="4.0" height="125.64" fill="#e6af2d"/>
<rect x="237.96" y="615.06" width="4.0" height="126.54" fill="#e6af2d"/>
<rect x="247.95" y="614.54" width="4.0" height="127.06" fill="#e6af2d"/>
<rect x="257.94" y="613" width="4.0" height="128.6" fill="#e6af2d"/>
<rect x="267.93" y="613" width="4.0" height="128.6" fill="#e6af2d"/>
<rect x="277.91" y="623.03" width="4.0" height="118.57" fill="#e6af2d"/>
<rect x="287.9" y="632.03" width="4.0" height="109.57" fill="#e6af2d"/>
<rect x="297.89" y="633.06" width="4.0" height="108.54" fill="#e6af2d"/>
<rect x="307.88" y="649.01" width="4.0" height="92.59" fill="#e6af2d"/>
<rect x="317.87" y="730.03" width="4.0" height="11.57" fill="#e6af2d"/>
<rect x="327.85" y="689" width="4.0" height="52.6" fill="#e6af2d"/>
<rect x="337.84" y="662" width="4.0" height="79.6" fill="#e6af2d"/>
<rect x="347.83" y="695.05" width="4.0" height="46.55" fill="#e6af2d"/>
<rect x="357.82" y="701.99" width="4.0" height="39.61" fill="#e6af2d"/>
<rect x="367.81" y="709.06" width="4.0" height="32.54" fill="#e6af2d"/>
<rect x="377.79" y="663.03" width="4.0" height="78.57" fill="#e6af2d"/>
<rect x="387.78" y="646.95" width="4.0" height="94.65" fill="#e6af2d"/>
<rect x="397.77" y="634.99" width="4.0" height="106.61" fill="#e6af2d"/>
<rect x="407.76" y="647.98" width="4.0" height="93.62" fill="#e6af2d"/>
<rect x="417.75" y="615.06" width="4.0" height="126.54" fill="#e6af2d"/>
<rect x="427.73" y="615.06" width="4.0" height="126.54" fill="#e6af2d"/>
<rect x="437.72" y="614.03" width="4.0" height="127.57" fill="#e6af2d"/>
<rect x="447.71" y="614.03" width="4.0" height="127.57" fill="#e6af2d"/>
<rect x="457.7" y="650.04" width="4.0" height="91.56" fill="#e6af2d"/>
<rect x="467.69" y="665.98" width="4.0" height="75.62" fill="#e6af2d"/>
<rect x="477.67" y="682.44" width="4.0" height="59.16" fill="#e6af2d"/>
<rect x="487.66" y="679.36" width="4.0" height="62.24" fill="#e6af2d"/>
<rect x="497.65" y="668.43" width="4.0" height="73.17" fill="#e6af2d"/>
<rect x="507.64" y="661.35" width="4.0" height="80.25" fill="#e6af2d"/>
<rect x="517.63" y="654.41" width="4.0" height="87.19" fill="#e6af2d"/>
<rect x="527.61" y="627.4" width="4.0" height="114.2" fill="#e6af2d"/>
<rect x="537.6" y="654.41" width="4.0" height="87.19" fill="#e6af2d"/>
<rect x="547.59" y="630.36" width="4.0" height="111.24" fill="#e6af2d"/>
<rect x="557.58" y="681.42" width="4.0" height="60.18" fill="#e6af2d"/>
<rect x="567.57" y="647.34" width="4.0" height="94.26" fill="#e6af2d"/>
<rect x="577.55" y="671" width="4.0" height="70.6" fill="#e6af2d"/>
<rect x="587.54" y="686.04" width="4.0" height="55.56" fill="#e6af2d"/>
<rect x="597.53" y="706.36" width="4.0" height="35.24" fill="#e6af2d"/>
<rect x="607.52" y="716.39" width="4.0" height="25.21" fill="#e6af2d"/>
<rect x="617.51" y="725.4" width="4.0" height="16.2" fill="#e6af2d"/>
<rect x="627.49" y="708.42" width="4.0" height="33.18" fill="#e6af2d"/>
<rect x="637.48" y="702.38" width="4.0" height="39.22" fill="#e6af2d"/>
<rect x="647.47" y="717.42" width="4.0" height="24.18" fill="#e6af2d"/>
<rect x="657.46" y="714.98" width="4.0" height="26.62" fill="#e6af2d"/>
<rect x="667.45" y="725.01" width="4.0" height="16.59" fill="#e6af2d"/>
<rect x="677.43" y="740.83" width="4.0" height="0.77" fill="#e6af2d"/>
<rect x="687.42" y="740.83" width="4.0" height="0.77" fill="#e6af2d"/>
<rect x="697.41" y="740.83" width="4.0" height="0.77" fill="#e6af2d"/>
<rect x="707.4" y="740.83" width="4.0" height="0.77" fill="#e6af2d"/>
<rect x="717.39" y="725.01" width="4.0" height="16.59" fill="#e6af2d"/>
<rect x="727.37" y="723.98" width="4.0" height="17.62" fill="#e6af2d"/>
<rect x="737.36" y="740.83" width="4.0" height="0.77" fill="#e6af2d"/>
<rect x="747.35" y="740.83" width="4.0" height="0.77" fill="#e6af2d"/>
<rect x="757.34" y="740.83" width="4.0" height="0.77" fill="#e6af2d"/>
<rect x="767.33" y="740.83" width="4.0" height="0.77" fill="#e6af2d"/>
<rect x="777.31" y="740.83" width="4.0" height="0.77" fill="#e6af2d"/>
<rect x="787.3" y="740.83" width="4.0" height="0.77" fill="#e6af2d"/>
<rect x="797.29" y="740.83" width="4.0" height="0.77" fill="#e6af2d"/>
<rect x="807.28" y="740.83" width="4.0" height="0.77" fill="#e6af2d"/>
<rect x="817.27" y="740.83" width="4.0" height="0.77" fill="#e6af2d"/>
<rect x="827.25" y="740.83" width="4.0" height="0.77" fill="#e6af2d"/>
<rect x="837.24" y="740.83" width="4.0" height="0.77" fill="#e6af2d"/>
<rect x="847.23" y="740.83" width="4.0" height="0.77" fill="#e6af2d"/>
<rect x="857.22" y="740.83" width="4.0" height="0.77" fill="#e6af2d"/>
<rect x="867.21" y="740.83" width="4.0" height="0.77" fill="#e6af2d"/>
<rect x="877.19" y="740.83" width="4.0" height="0.77" fill="#e6af2d"/>
<rect x="887.18" y="740.83" width="4.0" height="0.77" fill="#e6af2d"/>
<rect x="897.17" y="733.37" width="4.0" height="8.23" fill="#e6af2d"/>
<rect x="907.16" y="726.94" width="4.0" height="14.66" fill="#e6af2d"/>
<rect x="917.15" y="723.34" width="4.0" height="18.26" fill="#e6af2d"/>
<rect x="927.13" y="721.41" width="4.0" height="20.19" fill="#e6af2d"/>
<rect x="937.12" y="722.44" width="4.0" height="19.16" fill="#e6af2d"/>
<rect x="947.11" y="713.44" width="4.0" height="28.16" fill="#e6af2d"/>
<rect x="957.1" y="724.37" width="4.0" height="17.23" fill="#e6af2d"/>
</g>
<path d="M200.58 613H959.2" stroke="#868686" stroke-width="1.05" stroke-dasharray="2.3 8.266" stroke-linecap="butt"/>
<path d="M200.58 645.15H959.2" stroke="#868686" stroke-width="1.05" stroke-dasharray="2.3 8.266" stroke-linecap="butt"/>
<path d="M200.58 677.3H959.2" stroke="#868686" stroke-width="1.05" stroke-dasharray="2.3 8.266" stroke-linecap="butt"/>
<path d="M200.58 709.45H959.2" stroke="#868686" stroke-width="1.05" stroke-dasharray="2.3 8.266" stroke-linecap="butt"/>
<path d="M200.58 741.6H959.2" stroke="#868686" stroke-width="1.05" stroke-dasharray="2.3 8.266" stroke-linecap="butt"/>
<path d="M309.38 754.77V600" stroke="#8e8e8e" stroke-width="1.15" stroke-dasharray="1.9 6.28" stroke-linecap="butt"/>
<path d="M429.23 754.77V600" stroke="#8e8e8e" stroke-width="1.15" stroke-dasharray="1.9 6.28" stroke-linecap="butt"/>
<path d="M549.09 754.77V600" stroke="#8e8e8e" stroke-width="1.15" stroke-dasharray="1.9 6.28" stroke-linecap="butt"/>
<path d="M668.95 754.77V600" stroke="#8e8e8e" stroke-width="1.15" stroke-dasharray="1.9 6.28" stroke-linecap="butt"/>
<path d="M788.8 754.77V600" stroke="#8e8e8e" stroke-width="1.15" stroke-dasharray="1.9 6.28" stroke-linecap="butt"/>
<path d="M908.66 754.77V600" stroke="#8e8e8e" stroke-width="1.15" stroke-dasharray="1.9 6.28" stroke-linecap="butt"/>
<path d="M200.5 373.6v3.6" stroke="#1e3cff" stroke-width="1.1" stroke-linecap="butt"/>
<path d="M313.5 136.3v-5.5M431.7 136.3v-5.5M549.9 136.3v-5.5M668.1 136.3v-5.5M786.3 136.3v-5.5M904.5 136.3v-5.5M309.38 909.0v5.5M429.23 909.0v5.5M549.09 909.0v5.5M668.95 909.0v5.5M788.8 909.0v5.5M908.66 909.0v5.5M199.2 150.4h-5.2M199.2 188.34h-5.2M199.2 226.28h-5.2M199.2 264.22h-5.2M199.2 312.2h-5.2M199.2 354h-5.2M199.2 395.8h-5.2M199.2 437.6h-5.2M199.2 583.6h-5.2M199.2 566.9h-5.2M199.2 550.2h-5.2M199.2 533.5h-5.2M199.2 516.79h-5.2M199.2 500.09h-5.2M199.2 483.39h-5.2M199.2 466.69h-5.2M199.2 449.99h-5.2M199.2 613h-5.2M199.2 645.15h-5.2M199.2 677.3h-5.2M199.2 709.45h-5.2M199.2 741.6h-5.2M199.2 784.6h-5.2M199.2 815.7h-5.2M199.2 846.8h-5.2M199.2 877.9h-5.2M199.2 909h-5.2" stroke="#000" stroke-width="1.35" stroke-linecap="butt"/>
<path d="M151.4 147.73 152.44 147.3 153.99 146 153.99 155.1M163.32 146 161.76 146.43 160.73 147.73 160.21 149.9 160.21 151.2 160.73 153.37 161.76 154.67 163.32 155.1 164.35 155.1 165.91 154.67 166.94 153.37 167.46 151.2 167.46 149.9 166.94 147.73 165.91 146.43 164.35 146 163.32 146M171.09 148.17 171.09 147.73 171.61 146.87 172.12 146.43 173.16 146 175.23 146 176.27 146.43 176.79 146.87 177.3 147.73 177.3 148.6 176.79 149.47 175.75 150.77 170.57 155.1 177.82 155.1M186.11 146 180.93 152.07 188.7 152.07M186.11 146 186.11 155.1" stroke="#000" stroke-width="1.3" />
<path d="M151.92 185.67 152.96 185.24 154.51 183.94 154.51 193.04M163.84 183.94 162.28 184.37 161.25 185.67 160.73 187.84 160.73 189.14 161.25 191.31 162.28 192.61 163.84 193.04 164.87 193.04 166.43 192.61 167.46 191.31 167.98 189.14 167.98 187.84 167.46 185.67 166.43 184.37 164.87 183.94 163.84 183.94M171.61 186.11 171.61 185.67 172.12 184.81 172.64 184.37 173.68 183.94 175.75 183.94 176.79 184.37 177.3 184.81 177.82 185.67 177.82 186.54 177.3 187.41 176.27 188.71 171.09 193.04 178.34 193.04M181.97 186.11 181.97 185.67 182.48 184.81 183 184.37 184.04 183.94 186.11 183.94 187.15 184.37 187.66 184.81 188.18 185.67 188.18 186.54 187.66 187.41 186.63 188.71 181.45 193.04 188.7 193.04" stroke="#000" stroke-width="1.3" />
<path d="M151.92 223.61 152.96 223.18 154.51 221.88 154.51 230.98M163.84 221.88 162.28 222.31 161.25 223.61 160.73 225.78 160.73 227.08 161.25 229.25 162.28 230.55 163.84 230.98 164.87 230.98 166.43 230.55 167.46 229.25 167.98 227.08 167.98 225.78 167.46 223.61 166.43 222.31 164.87 221.88 163.84 221.88M171.61 224.05 171.61 223.61 172.12 222.75 172.64 222.31 173.68 221.88 175.75 221.88 176.79 222.31 177.3 222.75 177.82 223.61 177.82 224.48 177.3 225.35 176.27 226.65 171.09 230.98 178.34 230.98M184.56 221.88 183 222.31 181.97 223.61 181.45 225.78 181.45 227.08 181.97 229.25 183 230.55 184.56 230.98 185.59 230.98 187.15 230.55 188.18 229.25 188.7 227.08 188.7 225.78 188.18 223.61 187.15 222.31 185.59 221.88 184.56 221.88" stroke="#000" stroke-width="1.3" />
<path d="M151.92 261.55 152.96 261.12 154.51 259.82 154.51 268.92M163.84 259.82 162.28 260.25 161.25 261.55 160.73 263.72 160.73 265.02 161.25 267.19 162.28 268.49 163.84 268.92 164.87 268.92 166.43 268.49 167.46 267.19 167.98 265.02 167.98 263.72 167.46 261.55 166.43 260.25 164.87 259.82 163.84 259.82M172.64 261.55 173.68 261.12 175.23 259.82 175.23 268.92M184.04 259.82 182.48 260.25 181.97 261.12 181.97 261.99 182.48 262.85 183.52 263.29 185.59 263.72 187.15 264.15 188.18 265.02 188.7 265.89 188.7 267.19 188.18 268.05 187.66 268.49 186.11 268.92 184.04 268.92 182.48 268.49 181.97 268.05 181.45 267.19 181.45 265.89 181.97 265.02 183 264.15 184.56 263.72 186.63 263.29 187.66 262.85 188.18 261.99 188.18 261.12 187.66 260.25 186.11 259.82 184.04 259.82" stroke="#000" stroke-width="1.3" />
<path d="M172.64 309.53 173.68 309.1 175.23 307.8 175.23 316.9M181.97 309.97 181.97 309.53 182.48 308.67 183 308.23 184.04 307.8 186.11 307.8 187.15 308.23 187.66 308.67 188.18 309.53 188.18 310.4 187.66 311.27 186.63 312.57 181.45 316.9 188.7 316.9" stroke="#000" stroke-width="1.3" />
<path d="M184.04 349.6 182.48 350.03 181.97 350.9 181.97 351.77 182.48 352.63 183.52 353.07 185.59 353.5 187.15 353.93 188.18 354.8 188.7 355.67 188.7 356.97 188.18 357.83 187.66 358.27 186.11 358.7 184.04 358.7 182.48 358.27 181.97 357.83 181.45 356.97 181.45 355.67 181.97 354.8 183 353.93 184.56 353.5 186.63 353.07 187.66 352.63 188.18 351.77 188.18 350.9 187.66 350.03 186.11 349.6 184.04 349.6" stroke="#000" stroke-width="1.3" />
<path d="M186.11 391.4 180.93 397.47 188.7 397.47M186.11 391.4 186.11 400.5" stroke="#000" stroke-width="1.3" />
<path d="M184.56 433.2 183 433.63 181.97 434.93 181.45 437.1 181.45 438.4 181.97 440.57 183 441.87 184.56 442.3 185.59 442.3 187.15 441.87 188.18 440.57 188.7 438.4 188.7 437.1 188.18 434.93 187.15 433.63 185.59 433.2 184.56 433.2" stroke="#000" stroke-width="1.3" />
<path d="M182.48 579.2 188.18 579.2 185.07 582.67 186.63 582.67 187.66 583.1 188.18 583.53 188.7 584.83 188.7 585.7 188.18 587 187.15 587.87 185.59 588.3 184.04 588.3 182.48 587.87 181.97 587.43 181.45 586.57" stroke="#000" stroke-width="1.3" />
<path d="M188.18 563.8 187.66 562.93 186.11 562.5 185.07 562.5 183.52 562.93 182.48 564.23 181.97 566.4 181.97 568.56 182.48 570.3 183.52 571.16 185.07 571.6 185.59 571.6 187.15 571.16 188.18 570.3 188.7 569 188.7 568.56 188.18 567.26 187.15 566.4 185.59 565.96 185.07 565.96 183.52 566.4 182.48 567.26 181.97 568.56" stroke="#000" stroke-width="1.3" />
<path d="M188.7 548.83 188.18 550.13 187.15 551 185.59 551.43 185.07 551.43 183.52 551 182.48 550.13 181.97 548.83 181.97 548.4 182.48 547.1 183.52 546.23 185.07 545.8 185.59 545.8 187.15 546.23 188.18 547.1 188.7 548.83 188.7 551 188.18 553.16 187.15 554.46 185.59 554.9 184.56 554.9 183 554.46 182.48 553.6" stroke="#000" stroke-width="1.3" />
<path d="M172.64 530.83 173.68 530.4 175.23 529.1 175.23 538.2M181.97 531.26 181.97 530.83 182.48 529.96 183 529.53 184.04 529.1 186.11 529.1 187.15 529.53 187.66 529.96 188.18 530.83 188.18 531.7 187.66 532.56 186.63 533.86 181.45 538.2 188.7 538.2" stroke="#000" stroke-width="1.3" />
<path d="M172.64 514.13 173.68 513.7 175.23 512.39 175.23 521.5M187.66 512.39 182.48 512.39 181.97 516.29 182.48 515.86 184.04 515.43 185.59 515.43 187.15 515.86 188.18 516.73 188.7 518.03 188.7 518.89 188.18 520.2 187.15 521.06 185.59 521.5 184.04 521.5 182.48 521.06 181.97 520.63 181.45 519.76" stroke="#000" stroke-width="1.3" />
<path d="M172.64 497.43 173.68 496.99 175.23 495.69 175.23 504.79M184.04 495.69 182.48 496.13 181.97 496.99 181.97 497.86 182.48 498.73 183.52 499.16 185.59 499.59 187.15 500.03 188.18 500.89 188.7 501.76 188.7 503.06 188.18 503.93 187.66 504.36 186.11 504.79 184.04 504.79 182.48 504.36 181.97 503.93 181.45 503.06 181.45 501.76 181.97 500.89 183 500.03 184.56 499.59 186.63 499.16 187.66 498.73 188.18 497.86 188.18 496.99 187.66 496.13 186.11 495.69 184.04 495.69" stroke="#000" stroke-width="1.3" />
<path d="M174.71 481.16 174.71 480.73 175.23 479.86 175.75 479.43 176.79 478.99 178.86 478.99 179.89 479.43 180.41 479.86 180.93 480.73 180.93 481.59 180.41 482.46 179.38 483.76 174.2 488.09 181.45 488.09M186.11 480.73 187.15 480.29 188.7 478.99 188.7 488.09" stroke="#000" stroke-width="1.3" />
<path d="M171.09 464.46 171.09 464.03 171.61 463.16 172.12 462.73 173.16 462.29 175.23 462.29 176.27 462.73 176.79 463.16 177.3 464.03 177.3 464.89 176.79 465.76 175.75 467.06 170.57 471.39 177.82 471.39M186.11 462.29 180.93 468.36 188.7 468.36M186.11 462.29 186.11 471.39" stroke="#000" stroke-width="1.3" />
<path d="M171.61 447.76 171.61 447.32 172.12 446.46 172.64 446.02 173.68 445.59 175.75 445.59 176.79 446.02 177.3 446.46 177.82 447.32 177.82 448.19 177.3 449.06 176.27 450.36 171.09 454.69 178.34 454.69M188.7 445.59 183.52 454.69M181.45 445.59 188.7 445.59" stroke="#000" stroke-width="1.3" />
<path d="M162.28 610.33 163.32 609.9 164.87 608.6 164.87 617.7M174.2 608.6 172.64 609.03 171.61 610.33 171.09 612.5 171.09 613.8 171.61 615.97 172.64 617.27 174.2 617.7 175.23 617.7 176.79 617.27 177.82 615.97 178.34 613.8 178.34 612.5 177.82 610.33 176.79 609.03 175.23 608.6 174.2 608.6M184.56 608.6 183 609.03 181.97 610.33 181.45 612.5 181.45 613.8 181.97 615.97 183 617.27 184.56 617.7 185.59 617.7 187.15 617.27 188.18 615.97 188.7 613.8 188.7 612.5 188.18 610.33 187.15 609.03 185.59 608.6 184.56 608.6" stroke="#000" stroke-width="1.3" />
<path d="M178.34 640.75 173.16 649.85M171.09 640.75 178.34 640.75M187.66 640.75 182.48 640.75 181.97 644.65 182.48 644.22 184.04 643.78 185.59 643.78 187.15 644.22 188.18 645.08 188.7 646.38 188.7 647.25 188.18 648.55 187.15 649.42 185.59 649.85 184.04 649.85 182.48 649.42 181.97 648.98 181.45 648.12" stroke="#000" stroke-width="1.3" />
<path d="M177.3 672.9 172.12 672.9 171.61 676.8 172.12 676.37 173.68 675.93 175.23 675.93 176.79 676.37 177.82 677.23 178.34 678.53 178.34 679.4 177.82 680.7 176.79 681.57 175.23 682 173.68 682 172.12 681.57 171.61 681.13 171.09 680.27M184.56 672.9 183 673.33 181.97 674.63 181.45 676.8 181.45 678.1 181.97 680.27 183 681.57 184.56 682 185.59 682 187.15 681.57 188.18 680.27 188.7 678.1 188.7 676.8 188.18 674.63 187.15 673.33 185.59 672.9 184.56 672.9" stroke="#000" stroke-width="1.3" />
<path d="M171.61 707.22 171.61 706.78 172.12 705.92 172.64 705.48 173.68 705.05 175.75 705.05 176.79 705.48 177.3 705.92 177.82 706.78 177.82 707.65 177.3 708.52 176.27 709.82 171.09 714.15 178.34 714.15M187.66 705.05 182.48 705.05 181.97 708.95 182.48 708.52 184.04 708.08 185.59 708.08 187.15 708.52 188.18 709.38 188.7 710.68 188.7 711.55 188.18 712.85 187.15 713.72 185.59 714.15 184.04 714.15 182.48 713.72 181.97 713.28 181.45 712.42" stroke="#000" stroke-width="1.3" />
<path d="M184.56 737.2 183 737.63 181.97 738.93 181.45 741.1 181.45 742.4 181.97 744.57 183 745.87 184.56 746.3 185.59 746.3 187.15 745.87 188.18 744.57 188.7 742.4 188.7 741.1 188.18 738.93 187.15 737.63 185.59 737.2 184.56 737.2" stroke="#000" stroke-width="1.3" />
<path d="M169.02 780.2 167.46 780.63 166.43 781.93 165.91 784.1 165.91 785.4 166.43 787.57 167.46 788.87 169.02 789.3 170.05 789.3 171.61 788.87 172.64 787.57 173.16 785.4 173.16 784.1 172.64 781.93 171.61 780.63 170.05 780.2 169.02 780.2M177.3 788.43 176.79 788.87 177.3 789.3 177.82 788.87 177.3 788.43M184.04 780.2 182.48 780.63 181.97 781.5 181.97 782.37 182.48 783.23 183.52 783.67 185.59 784.1 187.15 784.53 188.18 785.4 188.7 786.27 188.7 787.57 188.18 788.43 187.66 788.87 186.11 789.3 184.04 789.3 182.48 788.87 181.97 788.43 181.45 787.57 181.45 786.27 181.97 785.4 183 784.53 184.56 784.1 186.63 783.67 187.66 783.23 188.18 782.37 188.18 781.5 187.66 780.63 186.11 780.2 184.04 780.2" stroke="#000" stroke-width="1.3" />
<path d="M169.02 811.3 167.46 811.73 166.43 813.03 165.91 815.2 165.91 816.5 166.43 818.67 167.46 819.97 169.02 820.4 170.05 820.4 171.61 819.97 172.64 818.67 173.16 816.5 173.16 815.2 172.64 813.03 171.61 811.73 170.05 811.3 169.02 811.3M177.3 819.53 176.79 819.97 177.3 820.4 177.82 819.97 177.3 819.53M188.18 812.6 187.66 811.73 186.11 811.3 185.07 811.3 183.52 811.73 182.48 813.03 181.97 815.2 181.97 817.37 182.48 819.1 183.52 819.97 185.07 820.4 185.59 820.4 187.15 819.97 188.18 819.1 188.7 817.8 188.7 817.37 188.18 816.07 187.15 815.2 185.59 814.77 185.07 814.77 183.52 815.2 182.48 816.07 181.97 817.37" stroke="#000" stroke-width="1.3" />
<path d="M168.5 842.4 166.94 842.83 165.91 844.13 165.39 846.3 165.39 847.6 165.91 849.77 166.94 851.07 168.5 851.5 169.53 851.5 171.09 851.07 172.12 849.77 172.64 847.6 172.64 846.3 172.12 844.13 171.09 842.83 169.53 842.4 168.5 842.4M176.79 850.63 176.27 851.07 176.79 851.5 177.3 851.07 176.79 850.63M186.11 842.4 180.93 848.47 188.7 848.47M186.11 842.4 186.11 851.5" stroke="#000" stroke-width="1.3" />
<path d="M169.02 873.5 167.46 873.93 166.43 875.23 165.91 877.4 165.91 878.7 166.43 880.87 167.46 882.17 169.02 882.6 170.05 882.6 171.61 882.17 172.64 880.87 173.16 878.7 173.16 877.4 172.64 875.23 171.61 873.93 170.05 873.5 169.02 873.5M177.3 881.73 176.79 882.17 177.3 882.6 177.82 882.17 177.3 881.73M181.97 875.67 181.97 875.23 182.48 874.37 183 873.93 184.04 873.5 186.11 873.5 187.15 873.93 187.66 874.37 188.18 875.23 188.18 876.1 187.66 876.97 186.63 878.27 181.45 882.6 188.7 882.6" stroke="#000" stroke-width="1.3" />
<path d="M184.56 904.6 183 905.03 181.97 906.33 181.45 908.5 181.45 909.8 181.97 911.97 183 913.27 184.56 913.7 185.59 913.7 187.15 913.27 188.18 911.97 188.7 909.8 188.7 908.5 188.18 906.33 187.15 905.03 185.59 904.6 184.56 904.6" stroke="#000" stroke-width="1.3" />
<path d="M297.78 117.89 299.09 117.31 301.06 115.6 301.06 127.6M309.57 118.46 309.57 117.89 310.23 116.74 310.88 116.17 312.19 115.6 314.81 115.6 316.12 116.17 316.78 116.74 317.43 117.89 317.43 119.03 316.78 120.17 315.47 121.89 308.92 127.6 318.09 127.6M331.19 115.6 322.02 127.6M322.02 115.6 331.19 115.6M322.02 127.6 331.19 127.6" stroke="#1a1a1a" stroke-width="1.0" />
<path d="M283.37 100.46 283.37 99.89 284.02 98.74 284.68 98.17 285.99 97.6 288.61 97.6 289.92 98.17 290.57 98.74 291.23 99.89 291.23 101.03 290.57 102.17 289.26 103.89 282.71 109.6 291.88 109.6M296.47 100.46 296.47 99.89 297.12 98.74 297.78 98.17 299.09 97.6 301.71 97.6 303.02 98.17 303.68 98.74 304.33 99.89 304.33 101.03 303.68 102.17 302.37 103.89 295.81 109.6 304.99 109.6M318.08 99.31 316.77 98.17 314.81 97.6 312.19 97.6 310.23 98.17 308.92 99.31 308.92 100.46 309.57 101.6 310.23 102.17 311.54 102.74 315.47 103.89 316.77 104.46 317.43 105.03 318.08 106.17 318.08 107.89 316.77 109.03 314.81 109.6 312.19 109.6 310.23 109.03 308.92 107.89M322.67 97.6 322.67 109.6M322.67 97.6 331.19 97.6M322.67 103.31 327.91 103.31M322.67 109.6 331.19 109.6M335.12 97.6 335.12 109.6M335.12 97.6 341.01 97.6 342.98 98.17 343.63 98.74 344.29 99.89 344.29 101.6 343.63 102.74 342.98 103.31 341.01 103.89 335.12 103.89" stroke="#1a1a1a" stroke-width="1.0" />
<path d="M289.92 82.46 289.92 81.89 290.57 80.74 291.23 80.17 292.54 79.6 295.16 79.6 296.47 80.17 297.12 80.74 297.78 81.89 297.78 83.03 297.12 84.17 295.81 85.89 289.26 91.6 298.44 91.6M306.3 79.6 304.33 80.17 303.02 81.89 302.37 84.74 302.37 86.46 303.02 89.31 304.33 91.03 306.3 91.6 307.61 91.6 309.57 91.03 310.88 89.31 311.54 86.46 311.54 84.74 310.88 81.89 309.57 80.17 307.61 79.6 306.3 79.6M316.12 82.46 316.12 81.89 316.78 80.74 317.43 80.17 318.74 79.6 321.36 79.6 322.67 80.17 323.32 80.74 323.98 81.89 323.98 83.03 323.32 84.17 322.01 85.89 315.47 91.6 324.63 91.6M330.53 81.89 331.84 81.31 333.81 79.6 333.81 91.6" stroke="#1a1a1a" stroke-width="1.0" />
<path d="M417.94 115.6 415.98 116.17 414.67 117.89 414.01 120.74 414.01 122.46 414.67 125.31 415.98 127.03 417.94 127.6 419.25 127.6 421.22 127.03 422.53 125.31 423.19 122.46 423.19 120.74 422.53 117.89 421.22 116.17 419.25 115.6 417.94 115.6M431.05 115.6 429.08 116.17 427.77 117.89 427.12 120.74 427.12 122.46 427.77 125.31 429.08 127.03 431.05 127.6 432.36 127.6 434.32 127.03 435.63 125.31 436.29 122.46 436.29 120.74 435.63 117.89 434.32 116.17 432.36 115.6 431.05 115.6M449.38 115.6 440.22 127.6M440.22 115.6 449.38 115.6M440.22 127.6 449.38 127.6" stroke="#1a1a1a" stroke-width="1.0" />
<path d="M401.57 100.46 401.57 99.89 402.22 98.74 402.88 98.17 404.19 97.6 406.81 97.6 408.12 98.17 408.77 98.74 409.43 99.89 409.43 101.03 408.77 102.17 407.46 103.89 400.91 109.6 410.08 109.6M415.32 97.6 422.53 97.6 418.6 102.17 420.56 102.17 421.88 102.74 422.53 103.31 423.19 105.03 423.19 106.17 422.53 107.89 421.22 109.03 419.25 109.6 417.29 109.6 415.32 109.03 414.67 108.46 414.01 107.31M436.28 99.31 434.97 98.17 433.01 97.6 430.39 97.6 428.43 98.17 427.12 99.31 427.12 100.46 427.77 101.6 428.43 102.17 429.74 102.74 433.66 103.89 434.97 104.46 435.63 105.03 436.28 106.17 436.28 107.89 434.97 109.03 433.01 109.6 430.39 109.6 428.43 109.03 427.12 107.89M440.87 97.6 440.87 109.6M440.87 97.6 449.38 97.6M440.87 103.31 446.11 103.31M440.87 109.6 449.38 109.6M453.31 97.6 453.31 109.6M453.31 97.6 459.21 97.6 461.18 98.17 461.83 98.74 462.49 99.89 462.49 101.6 461.83 102.74 461.18 103.31 459.21 103.89 453.31 103.89" stroke="#1a1a1a" stroke-width="1.0" />
<path d="M534.18 117.89 535.49 117.31 537.46 115.6 537.46 127.6M545.97 118.46 545.97 117.89 546.62 116.74 547.28 116.17 548.59 115.6 551.21 115.6 552.52 116.17 553.17 116.74 553.83 117.89 553.83 119.03 553.17 120.17 551.87 121.89 545.32 127.6 554.49 127.6M567.59 115.6 558.41 127.6M558.41 115.6 567.59 115.6M558.41 127.6 567.59 127.6" stroke="#1a1a1a" stroke-width="1.0" />
<path d="M654.35 115.6 652.38 116.17 651.07 117.89 650.42 120.74 650.42 122.46 651.07 125.31 652.38 127.03 654.35 127.6 655.66 127.6 657.62 127.03 658.93 125.31 659.59 122.46 659.59 120.74 658.93 117.89 657.62 116.17 655.66 115.6 654.35 115.6M667.45 115.6 665.48 116.17 664.17 117.89 663.52 120.74 663.52 122.46 664.17 125.31 665.48 127.03 667.45 127.6 668.75 127.6 670.72 127.03 672.03 125.31 672.69 122.46 672.69 120.74 672.03 117.89 670.72 116.17 668.75 115.6 667.45 115.6M685.79 115.6 676.62 127.6M676.62 115.6 685.79 115.6M676.62 127.6 685.79 127.6" stroke="#1a1a1a" stroke-width="1.0" />
<path d="M637.97 100.46 637.97 99.89 638.62 98.74 639.28 98.17 640.59 97.6 643.21 97.6 644.52 98.17 645.18 98.74 645.83 99.89 645.83 101.03 645.18 102.17 643.87 103.89 637.32 109.6 646.49 109.6M656.97 97.6 650.42 105.6 660.24 105.6M656.97 97.6 656.97 109.6M672.69 99.31 671.38 98.17 669.41 97.6 666.79 97.6 664.83 98.17 663.51 99.31 663.51 100.46 664.17 101.6 664.83 102.17 666.13 102.74 670.07 103.89 671.38 104.46 672.03 105.03 672.69 106.17 672.69 107.89 671.38 109.03 669.41 109.6 666.79 109.6 664.83 109.03 663.51 107.89M677.27 97.6 677.27 109.6M677.27 97.6 685.79 97.6M677.27 103.31 682.51 103.31M677.27 109.6 685.79 109.6M689.72 97.6 689.72 109.6M689.72 97.6 695.61 97.6 697.58 98.17 698.23 98.74 698.88 99.89 698.88 101.6 698.23 102.74 697.58 103.31 695.61 103.89 689.72 103.89" stroke="#1a1a1a" stroke-width="1.0" />
<path d="M770.58 117.89 771.89 117.31 773.86 115.6 773.86 127.6M782.37 118.46 782.37 117.89 783.02 116.74 783.68 116.17 784.99 115.6 787.61 115.6 788.92 116.17 789.57 116.74 790.23 117.89 790.23 119.03 789.57 120.17 788.26 121.89 781.72 127.6 790.88 127.6M803.99 115.6 794.81 127.6M794.81 115.6 803.99 115.6M794.81 127.6 803.99 127.6" stroke="#1a1a1a" stroke-width="1.0" />
<path d="M890.75 115.6 888.78 116.17 887.47 117.89 886.82 120.74 886.82 122.46 887.47 125.31 888.78 127.03 890.75 127.6 892.06 127.6 894.02 127.03 895.33 125.31 895.99 122.46 895.99 120.74 895.33 117.89 894.02 116.17 892.06 115.6 890.75 115.6M903.85 115.6 901.88 116.17 900.57 117.89 899.92 120.74 899.92 122.46 900.57 125.31 901.88 127.03 903.85 127.6 905.15 127.6 907.12 127.03 908.43 125.31 909.09 122.46 909.09 120.74 908.43 117.89 907.12 116.17 905.15 115.6 903.85 115.6M922.19 115.6 913.01 127.6M913.01 115.6 922.19 115.6M913.01 127.6 922.19 127.6" stroke="#1a1a1a" stroke-width="1.0" />
<path d="M874.37 100.46 874.37 99.89 875.02 98.74 875.68 98.17 876.99 97.6 879.61 97.6 880.92 98.17 881.58 98.74 882.23 99.89 882.23 101.03 881.58 102.17 880.26 103.89 873.72 109.6 882.88 109.6M894.67 97.6 888.12 97.6 887.47 102.74 888.12 102.17 890.09 101.6 892.05 101.6 894.02 102.17 895.33 103.31 895.99 105.03 895.99 106.17 895.33 107.89 894.02 109.03 892.05 109.6 890.09 109.6 888.12 109.03 887.47 108.46 886.82 107.31M909.09 99.31 907.77 98.17 905.81 97.6 903.19 97.6 901.23 98.17 899.91 99.31 899.91 100.46 900.57 101.6 901.23 102.17 902.53 102.74 906.47 103.89 907.77 104.46 908.43 105.03 909.09 106.17 909.09 107.89 907.77 109.03 905.81 109.6 903.19 109.6 901.23 109.03 899.91 107.89M913.67 97.6 913.67 109.6M913.67 97.6 922.18 97.6M913.67 103.31 918.91 103.31M913.67 109.6 922.18 109.6M926.12 97.6 926.12 109.6M926.12 97.6 932.01 97.6 933.98 98.17 934.63 98.74 935.28 99.89 935.28 101.6 934.63 102.74 933.98 103.31 932.01 103.89 926.12 103.89" stroke="#1a1a1a" stroke-width="1.0" />
<path d="M293.66 921.25 294.97 920.69 296.93 919 296.93 930.8M305.45 921.81 305.45 921.25 306.1 920.12 306.76 919.56 308.07 919 310.69 919 312 919.56 312.65 920.12 313.31 921.25 313.31 922.37 312.65 923.5 311.34 925.18 304.79 930.8 313.96 930.8M327.06 919 317.89 930.8M317.89 919 327.06 919M317.89 930.8 327.06 930.8" stroke="#000" stroke-width="1.2" />
<path d="M279.25 939.56 279.25 939 279.9 937.87 280.56 937.31 281.87 936.75 284.49 936.75 285.8 937.31 286.45 937.87 287.11 939 287.11 940.12 286.45 941.25 285.14 942.93 278.59 948.55 287.76 948.55M292.35 939.56 292.35 939 293 937.87 293.66 937.31 294.97 936.75 297.59 936.75 298.9 937.31 299.55 937.87 300.21 939 300.21 940.12 299.55 941.25 298.24 942.93 291.69 948.55 300.86 948.55M313.96 938.44 312.65 937.31 310.69 936.75 308.07 936.75 306.1 937.31 304.79 938.44 304.79 939.56 305.45 940.68 306.1 941.25 307.41 941.81 311.34 942.93 312.65 943.49 313.31 944.05 313.96 945.18 313.96 946.86 312.65 947.99 310.69 948.55 308.07 948.55 306.1 947.99 304.79 946.86M318.55 936.75 318.55 948.55M318.55 936.75 327.06 936.75M318.55 942.37 323.79 942.37M318.55 948.55 327.06 948.55M330.99 936.75 330.99 948.55M330.99 936.75 336.89 936.75 338.85 937.31 339.51 937.87 340.16 939 340.16 940.68 339.51 941.81 338.85 942.37 336.89 942.93 330.99 942.93" stroke="#000" stroke-width="1.2" />
<path d="M285.8 957.31 285.8 956.75 286.45 955.62 287.11 955.06 288.42 954.5 291.04 954.5 292.35 955.06 293 955.62 293.66 956.75 293.66 957.87 293 959 291.69 960.68 285.14 966.3 294.31 966.3M302.17 954.5 300.21 955.06 298.9 956.75 298.24 959.56 298.24 961.24 298.9 964.05 300.21 965.74 302.17 966.3 303.48 966.3 305.45 965.74 306.76 964.05 307.41 961.24 307.41 959.56 306.76 956.75 305.45 955.06 303.48 954.5 302.17 954.5M312 957.31 312 956.75 312.65 955.62 313.31 955.06 314.62 954.5 317.24 954.5 318.55 955.06 319.2 955.62 319.86 956.75 319.86 957.87 319.2 959 317.89 960.68 311.34 966.3 320.51 966.3M326.41 956.75 327.72 956.19 329.68 954.5 329.68 966.3" stroke="#000" stroke-width="1.2" />
<path d="M415.48 919 413.51 919.56 412.2 921.25 411.55 924.06 411.55 925.74 412.2 928.55 413.51 930.24 415.48 930.8 416.79 930.8 418.75 930.24 420.06 928.55 420.72 925.74 420.72 924.06 420.06 921.25 418.75 919.56 416.79 919 415.48 919M428.58 919 426.61 919.56 425.3 921.25 424.65 924.06 424.65 925.74 425.3 928.55 426.61 930.24 428.58 930.8 429.89 930.8 431.85 930.24 433.16 928.55 433.82 925.74 433.82 924.06 433.16 921.25 431.85 919.56 429.89 919 428.58 919M446.92 919 437.75 930.8M437.75 919 446.92 919M437.75 930.8 446.92 930.8" stroke="#000" stroke-width="1.2" />
<path d="M399.1 939.56 399.1 939 399.76 937.87 400.41 937.31 401.72 936.75 404.34 936.75 405.65 937.31 406.31 937.87 406.96 939 406.96 940.12 406.31 941.25 405 942.93 398.45 948.55 407.62 948.55M412.86 936.75 420.06 936.75 416.13 941.25 418.1 941.25 419.41 941.81 420.06 942.37 420.72 944.05 420.72 945.18 420.06 946.86 418.75 947.99 416.79 948.55 414.82 948.55 412.86 947.99 412.2 947.43 411.55 946.3M433.82 938.44 432.51 937.31 430.54 936.75 427.92 936.75 425.96 937.31 424.65 938.44 424.65 939.56 425.3 940.68 425.96 941.25 427.27 941.81 431.2 942.93 432.51 943.49 433.16 944.05 433.82 945.18 433.82 946.86 432.51 947.99 430.54 948.55 427.92 948.55 425.96 947.99 424.65 946.86M438.4 936.75 438.4 948.55M438.4 936.75 446.92 936.75M438.4 942.37 443.64 942.37M438.4 948.55 446.92 948.55M450.85 936.75 450.85 948.55M450.85 936.75 456.74 936.75 458.71 937.31 459.36 937.87 460.02 939 460.02 940.68 459.36 941.81 458.71 942.37 456.74 942.93 450.85 942.93" stroke="#000" stroke-width="1.2" />
<path d="M533.37 921.25 534.68 920.69 536.64 919 536.64 930.8M545.16 921.81 545.16 921.25 545.81 920.12 546.47 919.56 547.78 919 550.4 919 551.71 919.56 552.36 920.12 553.02 921.25 553.02 922.37 552.36 923.5 551.05 925.18 544.5 930.8 553.67 930.8M566.77 919 557.6 930.8M557.6 919 566.77 919M557.6 930.8 566.77 930.8" stroke="#000" stroke-width="1.2" />
<path d="M655.19 919 653.23 919.56 651.92 921.25 651.26 924.06 651.26 925.74 651.92 928.55 653.23 930.24 655.19 930.8 656.5 930.8 658.47 930.24 659.78 928.55 660.43 925.74 660.43 924.06 659.78 921.25 658.47 919.56 656.5 919 655.19 919M668.29 919 666.33 919.56 665.02 921.25 664.36 924.06 664.36 925.74 665.02 928.55 666.33 930.24 668.29 930.8 669.6 930.8 671.57 930.24 672.88 928.55 673.53 925.74 673.53 924.06 672.88 921.25 671.57 919.56 669.6 919 668.29 919M686.63 919 677.46 930.8M677.46 919 686.63 919M677.46 930.8 686.63 930.8" stroke="#000" stroke-width="1.2" />
<path d="M638.82 939.56 638.82 939 639.47 937.87 640.13 937.31 641.44 936.75 644.06 936.75 645.37 937.31 646.02 937.87 646.68 939 646.68 940.12 646.02 941.25 644.71 942.93 638.16 948.55 647.33 948.55M657.81 936.75 651.26 944.62 661.09 944.62M657.81 936.75 657.81 948.55M673.53 938.44 672.22 937.31 670.26 936.75 667.64 936.75 665.67 937.31 664.36 938.44 664.36 939.56 665.02 940.68 665.67 941.25 666.98 941.81 670.91 942.93 672.22 943.49 672.88 944.05 673.53 945.18 673.53 946.86 672.22 947.99 670.26 948.55 667.64 948.55 665.67 947.99 664.36 946.86M678.12 936.75 678.12 948.55M678.12 936.75 686.63 936.75M678.12 942.37 683.36 942.37M678.12 948.55 686.63 948.55M690.56 936.75 690.56 948.55M690.56 936.75 696.46 936.75 698.42 937.31 699.08 937.87 699.73 939 699.73 940.68 699.08 941.81 698.42 942.37 696.46 942.93 690.56 942.93" stroke="#000" stroke-width="1.2" />
<path d="M773.08 921.25 774.39 920.69 776.36 919 776.36 930.8M784.87 921.81 784.87 921.25 785.53 920.12 786.18 919.56 787.49 919 790.11 919 791.42 919.56 792.08 920.12 792.73 921.25 792.73 922.37 792.08 923.5 790.77 925.18 784.22 930.8 793.39 930.8M806.49 919 797.32 930.8M797.32 919 806.49 919M797.32 930.8 806.49 930.8" stroke="#000" stroke-width="1.2" />
<path d="M894.9 919 892.94 919.56 891.63 921.25 890.97 924.06 890.97 925.74 891.63 928.55 892.94 930.24 894.9 930.8 896.21 930.8 898.18 930.24 899.49 928.55 900.14 925.74 900.14 924.06 899.49 921.25 898.18 919.56 896.21 919 894.9 919M908 919 906.04 919.56 904.73 921.25 904.07 924.06 904.07 925.74 904.73 928.55 906.04 930.24 908 930.8 909.31 930.8 911.28 930.24 912.59 928.55 913.24 925.74 913.24 924.06 912.59 921.25 911.28 919.56 909.31 919 908 919M926.34 919 917.17 930.8M917.17 919 926.34 919M917.17 930.8 926.34 930.8" stroke="#000" stroke-width="1.2" />
<path d="M878.53 939.56 878.53 939 879.18 937.87 879.84 937.31 881.15 936.75 883.77 936.75 885.08 937.31 885.73 937.87 886.39 939 886.39 940.12 885.73 941.25 884.42 942.93 877.87 948.55 887.04 948.55M898.83 936.75 892.28 936.75 891.63 941.81 892.28 941.25 894.25 940.68 896.21 940.68 898.18 941.25 899.49 942.37 900.14 944.05 900.14 945.18 899.49 946.86 898.18 947.99 896.21 948.55 894.25 948.55 892.28 947.99 891.63 947.43 890.97 946.3M913.24 938.44 911.93 937.31 909.97 936.75 907.35 936.75 905.38 937.31 904.07 938.44 904.07 939.56 904.73 940.68 905.38 941.25 906.69 941.81 910.62 942.93 911.93 943.49 912.59 944.05 913.24 945.18 913.24 946.86 911.93 947.99 909.97 948.55 907.35 948.55 905.38 947.99 904.07 946.86M917.83 936.75 917.83 948.55M917.83 936.75 926.34 936.75M917.83 942.37 923.07 942.37M917.83 948.55 926.34 948.55M930.27 936.75 930.27 948.55M930.27 936.75 936.17 936.75 938.13 937.31 938.79 937.87 939.44 939 939.44 940.68 938.79 941.81 938.13 942.37 936.17 942.93 930.27 942.93" stroke="#000" stroke-width="1.2" />
<path d="M336.2 3 336.2 15.4M336.2 3 347.01 3M336.2 8.9 342.85 8.9M354.5 7.13 352.84 7.72 351.17 8.9 350.34 10.68 350.34 11.86 351.17 13.63 352.84 14.81 354.5 15.4 357 15.4 358.66 14.81 360.32 13.63 361.16 11.86 361.16 10.68 360.32 8.9 358.66 7.72 357 7.13 354.5 7.13M366.98 7.13 366.98 15.4M366.98 10.68 367.81 8.9 369.47 7.72 371.14 7.13 373.63 7.13M376.96 10.68 386.94 10.68 386.94 9.5 386.11 8.31 385.28 7.72 383.62 7.13 381.12 7.13 379.46 7.72 377.79 8.9 376.96 10.68 376.96 11.86 377.79 13.63 379.46 14.81 381.12 15.4 383.62 15.4 385.28 14.81 386.94 13.63M401.92 8.9 400.25 7.72 398.59 7.13 396.09 7.13 394.43 7.72 392.77 8.9 391.93 10.68 391.93 11.86 392.77 13.63 394.43 14.81 396.09 15.4 398.59 15.4 400.25 14.81 401.92 13.63M416.89 7.13 416.89 15.4M416.89 8.9 415.23 7.72 413.56 7.13 411.07 7.13 409.4 7.72 407.74 8.9 406.91 10.68 406.91 11.86 407.74 13.63 409.4 14.81 411.07 15.4 413.56 15.4 415.23 14.81 416.89 13.63M431.86 8.9 431.03 7.72 428.54 7.13 426.04 7.13 423.54 7.72 422.71 8.9 423.54 10.09 425.21 10.68 429.37 11.27 431.03 11.86 431.86 13.04 431.86 13.63 431.03 14.81 428.54 15.4 426.04 15.4 423.54 14.81 422.71 13.63M438.52 3 438.52 13.04 439.35 14.81 441.01 15.4 442.68 15.4M436.02 7.13 441.84 7.13M460.98 3 460.98 15.4M460.98 3 467.63 15.4M474.29 3 467.63 15.4M474.29 3 474.29 15.4M480.11 10.68 490.09 10.68 490.09 9.5 489.26 8.31 488.43 7.72 486.76 7.13 484.27 7.13 482.61 7.72 480.94 8.9 480.11 10.68 480.11 11.86 480.94 13.63 482.61 14.81 484.27 15.4 486.76 15.4 488.43 14.81 490.09 13.63M496.75 3 496.75 13.04 497.58 14.81 499.24 15.4 500.91 15.4M494.25 7.13 500.07 7.13M505.06 10.68 515.05 10.68 515.05 9.5 514.22 8.31 513.38 7.72 511.72 7.13 509.22 7.13 507.56 7.72 505.9 8.9 505.06 10.68 505.06 11.86 505.9 13.63 507.56 14.81 509.22 15.4 511.72 15.4 513.38 14.81 515.05 13.63M524.2 7.13 522.53 7.72 520.87 8.9 520.04 10.68 520.04 11.86 520.87 13.63 522.53 14.81 524.2 15.4 526.69 15.4 528.36 14.81 530.02 13.63 530.85 11.86 530.85 10.68 530.02 8.9 528.36 7.72 526.69 7.13 524.2 7.13M545.83 7.13 545.83 16.58 544.99 18.35 544.16 18.94 542.5 19.53 540 19.53 538.34 18.94M545.83 8.9 544.16 7.72 542.5 7.13 540 7.13 538.34 7.72 536.68 8.9 535.84 10.68 535.84 11.86 536.68 13.63 538.34 14.81 540 15.4 542.5 15.4 544.16 14.81 545.83 13.63M552.48 7.13 552.48 15.4M552.48 10.68 553.31 8.9 554.98 7.72 556.64 7.13 559.14 7.13M572.44 7.13 572.44 15.4M572.44 8.9 570.78 7.72 569.12 7.13 566.62 7.13 564.96 7.72 563.29 8.9 562.46 10.68 562.46 11.86 563.29 13.63 564.96 14.81 566.62 15.4 569.12 15.4 570.78 14.81 572.44 13.63M579.1 7.13 579.1 15.4M579.1 9.5 581.59 7.72 583.26 7.13 585.75 7.13 587.42 7.72 588.25 9.5 588.25 15.4M588.25 9.5 590.75 7.72 592.41 7.13 594.9 7.13 596.57 7.72 597.4 9.5 597.4 15.4" stroke="#e6af2d" stroke-width="0.62" />
<path d="M25.6 48.6 25.6 60.6M42.74 51.46 41.96 50.31 40.4 49.17 38.84 48.6 35.73 48.6 34.17 49.17 32.61 50.31 31.83 51.46 31.05 53.17 31.05 56.03 31.83 57.74 32.61 58.89 34.17 60.03 35.73 60.6 38.84 60.6 40.4 60.03 41.96 58.89 42.74 57.74M52.08 48.6 50.52 49.17 48.97 50.31 48.19 51.46 47.41 53.17 47.41 56.03 48.19 57.74 48.97 58.89 50.52 60.03 52.08 60.6 55.2 60.6 56.75 60.03 58.31 58.89 59.09 57.74 59.87 56.03 59.87 53.17 59.09 51.46 58.31 50.31 56.75 49.17 55.2 48.6 52.08 48.6M65.32 48.6 65.32 60.6M65.32 48.6 76.23 60.6M76.23 48.6 76.23 60.6M82.46 55.46 96.48 55.46M102.71 48.6 102.71 60.6M102.71 48.6 112.83 48.6M102.71 54.31 108.94 54.31M102.71 60.6 112.83 60.6M117.51 48.6 117.51 57.17 118.29 58.89 119.84 60.03 122.18 60.6 123.74 60.6 126.07 60.03 127.63 58.89 128.41 57.17 128.41 48.6M136.2 60.03 135.42 60.6 134.64 60.03 135.42 59.46 136.2 60.03 136.2 61.17 135.42 62.31 134.64 62.89M154.11 57.17 154.11 56.03 154.89 54.31 156.45 53.74 158.01 53.74 159.57 54.31 162.68 56.03 164.24 56.6 165.8 56.6 167.35 56.03 168.13 54.89M154.11 56.03 154.89 54.89 156.45 54.31 158.01 54.31 159.57 54.89 162.68 56.6 164.24 57.17 165.8 57.17 167.35 56.6 168.13 54.89 168.13 53.74M196.17 48.6 188.38 60.6M185.27 48.6 196.17 48.6M201.62 48.6 201.62 60.6M209.41 52.6 201.62 58.31M204.74 56.03 210.19 60.6M214.86 52.6 214.86 60.6M214.86 54.89 217.2 53.17 218.76 52.6 221.1 52.6 222.65 53.17 223.43 54.89 223.43 60.6M223.43 54.89 225.77 53.17 227.33 52.6 229.66 52.6 231.22 53.17 232 54.89 232 60.6" stroke="#8200dc" stroke-width="0.75" />
<path d="M590 16.63 590 22.5M590 19.15 590.59 17.89 591.78 17.05 592.97 16.63 594.75 16.63M597.12 19.15 604.25 19.15 604.25 18.31 603.65 17.47 603.06 17.05 601.87 16.63 600.09 16.63 598.9 17.05 597.72 17.89 597.12 19.15 597.12 19.99 597.72 21.24 598.9 22.08 600.09 22.5 601.87 22.5 603.06 22.08 604.25 21.24M614.93 16.63 614.93 25.43M614.93 17.89 613.74 17.05 612.56 16.63 610.78 16.63 609.59 17.05 608.4 17.89 607.81 19.15 607.81 19.99 608.4 21.24 609.59 22.08 610.78 22.5 612.56 22.5 613.74 22.08 614.93 21.24M619.68 16.63 619.68 20.82 620.27 22.08 621.46 22.5 623.24 22.5 624.43 22.08 626.21 20.82M626.21 16.63 626.21 22.5M630.37 19.15 637.49 19.15 637.49 18.31 636.9 17.47 636.3 17.05 635.12 16.63 633.33 16.63 632.15 17.05 630.96 17.89 630.37 19.15 630.37 19.99 630.96 21.24 632.15 22.08 633.33 22.5 635.12 22.5 636.3 22.08 637.49 21.24M647.58 17.89 646.99 17.05 645.21 16.63 643.43 16.63 641.64 17.05 641.05 17.89 641.64 18.73 642.83 19.15 645.8 19.57 646.99 19.99 647.58 20.82 647.58 21.24 646.99 22.08 645.21 22.5 643.43 22.5 641.64 22.08 641.05 21.24M652.33 13.7 652.33 20.82 652.92 22.08 654.11 22.5 655.3 22.5M650.55 16.63 654.7 16.63M658.27 19.15 665.39 19.15 665.39 18.31 664.8 17.47 664.2 17.05 663.02 16.63 661.23 16.63 660.05 17.05 658.86 17.89 658.27 19.15 658.27 19.99 658.86 21.24 660.05 22.08 661.23 22.5 663.02 22.5 664.2 22.08 665.39 21.24M676.07 13.7 676.07 22.5M676.07 17.89 674.89 17.05 673.7 16.63 671.92 16.63 670.73 17.05 669.55 17.89 668.95 19.15 668.95 19.99 669.55 21.24 670.73 22.08 671.92 22.5 673.7 22.5 674.89 22.08 676.07 21.24M690.32 13.7 690.32 22.5M697.45 16.63 696.26 17.05 695.07 17.89 694.48 19.15 694.48 19.99 695.07 21.24 696.26 22.08 697.45 22.5 699.23 22.5 700.41 22.08 701.6 21.24 702.19 19.99 702.19 19.15 701.6 17.89 700.41 17.05 699.23 16.63 697.45 16.63M706.35 16.63 706.35 22.5M706.35 18.31 708.13 17.05 709.32 16.63 711.1 16.63 712.29 17.05 712.88 18.31 712.88 22.5M718.82 22.08 718.22 22.5 717.63 22.08 718.22 21.66 718.82 22.08 718.82 22.92 718.22 23.76 717.63 24.18M723.56 13.7 723.56 22.5M734.84 16.63 734.84 22.5M734.84 17.89 733.66 17.05 732.47 16.63 730.69 16.63 729.5 17.05 728.31 17.89 727.72 19.15 727.72 19.99 728.31 21.24 729.5 22.08 730.69 22.5 732.47 22.5 733.66 22.08 734.84 21.24M740.19 13.7 740.19 20.82 740.78 22.08 741.97 22.5 743.15 22.5M738.41 16.63 742.56 16.63M760.37 12.02 759.18 12.86 757.99 14.12 756.81 15.8 756.21 17.89 756.21 19.57 756.81 21.66 757.99 23.34 759.18 24.6 760.37 25.43M764.52 15.8 764.52 15.38 765.12 14.54 765.71 14.12 766.9 13.7 769.27 13.7 770.46 14.12 771.05 14.54 771.65 15.38 771.65 16.21 771.05 17.05 769.87 18.31 763.93 22.5 772.24 22.5M777.58 15.38 778.77 14.96 780.55 13.7 780.55 22.5M788.86 21.66 788.27 22.08 788.86 22.5 789.46 22.08 788.86 21.66M800.74 13.7 794.8 13.7 794.21 17.47 794.8 17.05 796.58 16.63 798.36 16.63 800.14 17.05 801.33 17.89 801.92 19.15 801.92 19.99 801.33 21.24 800.14 22.08 798.36 22.5 796.58 22.5 794.8 22.08 794.21 21.66 793.61 20.82M813.79 13.7 807.86 22.5M805.48 13.7 813.79 13.7M820.92 13.7 819.14 14.12 817.95 15.38 817.36 17.47 817.36 18.73 817.95 20.82 819.14 22.08 820.92 22.5 822.11 22.5 823.89 22.08 825.07 20.82 825.67 18.73 825.67 17.47 825.07 15.38 823.89 14.12 822.11 13.7 820.92 13.7M836.95 14.96 836.35 14.12 834.57 13.7 833.38 13.7 831.6 14.12 830.42 15.38 829.82 17.47 829.82 19.57 830.42 21.24 831.6 22.08 833.38 22.5 833.98 22.5 835.76 22.08 836.95 21.24 837.54 19.99 837.54 19.57 836.95 18.31 835.76 17.47 833.98 17.05 833.38 17.05 831.6 17.47 830.42 18.31 829.82 19.57M841.7 13.7 841.7 22.5M841.7 13.7 849.41 13.7M841.7 17.89 846.44 17.89M841.7 22.5 849.41 22.5M854.16 22.08 853.57 22.5 852.97 22.08 853.57 21.66 854.16 22.08 854.16 22.92 853.57 23.76 852.97 24.18M873.75 13.7 867.81 19.57 876.72 19.57M873.75 13.7 873.75 22.5M880.28 15.8 880.28 15.38 880.87 14.54 881.47 14.12 882.65 13.7 885.03 13.7 886.22 14.12 886.81 14.54 887.4 15.38 887.4 16.21 886.81 17.05 885.62 18.31 879.69 22.5 888 22.5M892.75 21.66 892.15 22.08 892.75 22.5 893.34 22.08 892.75 21.66M904.62 13.7 898.68 13.7 898.09 17.47 898.68 17.05 900.46 16.63 902.24 16.63 904.03 17.05 905.21 17.89 905.81 19.15 905.81 19.99 905.21 21.24 904.03 22.08 902.24 22.5 900.46 22.5 898.68 22.08 898.09 21.66 897.5 20.82M912.34 13.7 910.56 14.12 909.96 14.96 909.96 15.8 910.56 16.63 911.74 17.05 914.12 17.47 915.9 17.89 917.08 18.73 917.68 19.57 917.68 20.82 917.08 21.66 916.49 22.08 914.71 22.5 912.34 22.5 910.56 22.08 909.96 21.66 909.37 20.82 909.37 19.57 909.96 18.73 911.15 17.89 912.93 17.47 915.3 17.05 916.49 16.63 917.08 15.8 917.08 14.96 916.49 14.12 914.71 13.7 912.34 13.7M924.21 13.7 922.43 14.12 921.83 14.96 921.83 15.8 922.43 16.63 923.61 17.05 925.99 17.47 927.77 17.89 928.96 18.73 929.55 19.57 929.55 20.82 928.96 21.66 928.36 22.08 926.58 22.5 924.21 22.5 922.43 22.08 921.83 21.66 921.24 20.82 921.24 19.57 921.83 18.73 923.02 17.89 924.8 17.47 927.18 17.05 928.36 16.63 928.96 15.8 928.96 14.96 928.36 14.12 926.58 13.7 924.21 13.7M939.05 13.7 933.11 19.57 942.02 19.57M939.05 13.7 939.05 22.5M945.58 13.7 945.58 22.5M945.58 13.7 953.89 22.5M953.89 13.7 953.89 22.5M958.04 12.02 959.23 12.86 960.42 14.12 961.61 15.8 962.2 17.89 962.2 19.57 961.61 21.66 960.42 23.34 959.23 24.6 958.04 25.43" stroke="#8200dc" stroke-width="0.7" />
<path d="M511.12 34.63 511.12 41.34 510.53 42.6 509.93 43.01 508.75 43.43 506.97 43.43 505.78 43.01M511.12 35.89 509.93 35.05 508.75 34.63 506.97 34.63 505.78 35.05 504.59 35.89 504 37.15 504 37.99 504.59 39.24 505.78 40.08 506.97 40.5 508.75 40.5 509.93 40.08 511.12 39.24M515.87 34.63 515.87 40.5M515.87 37.15 516.46 35.89 517.65 35.05 518.83 34.63 520.61 34.63M522.99 31.7 523.58 32.12 524.17 31.7 523.58 31.28 522.99 31.7M523.58 34.63 523.58 40.5M534.85 31.7 534.85 40.5M534.85 35.89 533.67 35.05 532.48 34.63 530.7 34.63 529.51 35.05 528.33 35.89 527.73 37.15 527.73 37.99 528.33 39.24 529.51 40.08 530.7 40.5 532.48 40.5 533.67 40.08 534.85 39.24M549.09 34.63 549.09 43.43M549.09 35.89 550.28 35.05 551.47 34.63 553.25 34.63 554.43 35.05 555.62 35.89 556.21 37.15 556.21 37.99 555.62 39.24 554.43 40.08 553.25 40.5 551.47 40.5 550.28 40.08 549.09 39.24M562.74 34.63 561.56 35.05 560.37 35.89 559.78 37.15 559.78 37.99 560.37 39.24 561.56 40.08 562.74 40.5 564.52 40.5 565.71 40.08 566.9 39.24 567.49 37.99 567.49 37.15 566.9 35.89 565.71 35.05 564.52 34.63 562.74 34.63M571.05 31.7 571.64 32.12 572.24 31.7 571.64 31.28 571.05 31.7M571.64 34.63 571.64 40.5M576.39 34.63 576.39 40.5M576.39 36.31 578.17 35.05 579.36 34.63 581.14 34.63 582.32 35.05 582.92 36.31 582.92 40.5M588.26 31.7 588.26 38.82 588.85 40.08 590.04 40.5 591.22 40.5M586.48 34.63 590.63 34.63M610.8 35.89 609.62 35.05 608.43 34.63 606.65 34.63 605.46 35.05 604.28 35.89 603.68 37.15 603.68 37.99 604.28 39.24 605.46 40.08 606.65 40.5 608.43 40.5 609.62 40.08 610.8 39.24M614.96 31.7 614.96 40.5M622.08 34.63 620.89 35.05 619.7 35.89 619.11 37.15 619.11 37.99 619.7 39.24 620.89 40.08 622.08 40.5 623.86 40.5 625.04 40.08 626.23 39.24 626.82 37.99 626.82 37.15 626.23 35.89 625.04 35.05 623.86 34.63 622.08 34.63M636.91 35.89 636.32 35.05 634.54 34.63 632.76 34.63 630.98 35.05 630.38 35.89 630.98 36.73 632.16 37.15 635.13 37.57 636.32 37.99 636.91 38.82 636.91 39.24 636.32 40.08 634.54 40.5 632.76 40.5 630.98 40.08 630.38 39.24M640.47 37.15 647.59 37.15 647.59 36.31 647 35.47 646.4 35.05 645.22 34.63 643.44 34.63 642.25 35.05 641.06 35.89 640.47 37.15 640.47 37.99 641.06 39.24 642.25 40.08 643.44 40.5 645.22 40.5 646.4 40.08 647.59 39.24M657.68 35.89 657.08 35.05 655.3 34.63 653.52 34.63 651.74 35.05 651.15 35.89 651.74 36.73 652.93 37.15 655.9 37.57 657.08 37.99 657.68 38.82 657.68 39.24 657.08 40.08 655.3 40.5 653.52 40.5 651.74 40.08 651.15 39.24M662.42 31.7 662.42 38.82 663.02 40.08 664.2 40.5 665.39 40.5M660.64 34.63 664.8 34.63M678.45 31.7 678.45 40.5M685.57 34.63 684.38 35.05 683.19 35.89 682.6 37.15 682.6 37.99 683.19 39.24 684.38 40.08 685.57 40.5 687.35 40.5 688.53 40.08 689.72 39.24 690.31 37.99 690.31 37.15 689.72 35.89 688.53 35.05 687.35 34.63 685.57 34.63M694.47 34.63 694.47 40.5M694.47 36.31 696.25 35.05 697.43 34.63 699.21 34.63 700.4 35.05 700.99 36.31 700.99 40.5M706.93 40.08 706.33 40.5 705.74 40.08 706.33 39.66 706.93 40.08 706.93 40.92 706.33 41.76 705.74 42.18M711.67 31.7 711.67 40.5M722.95 34.63 722.95 40.5M722.95 35.89 721.76 35.05 720.57 34.63 718.79 34.63 717.61 35.05 716.42 35.89 715.83 37.15 715.83 37.99 716.42 39.24 717.61 40.08 718.79 40.5 720.57 40.5 721.76 40.08 722.95 39.24M728.29 31.7 728.29 38.82 728.88 40.08 730.07 40.5 731.25 40.5M726.51 34.63 730.66 34.63M748.46 30.02 747.27 30.86 746.09 32.12 744.9 33.8 744.31 35.89 744.31 37.57 744.9 39.66 746.09 41.34 747.27 42.6 748.46 43.43M752.61 33.8 752.61 33.38 753.21 32.54 753.8 32.12 754.99 31.7 757.36 31.7 758.55 32.12 759.14 32.54 759.73 33.38 759.73 34.21 759.14 35.05 757.95 36.31 752.02 40.5 760.33 40.5M765.67 33.38 766.85 32.96 768.63 31.7 768.63 40.5M776.94 39.66 776.35 40.08 776.94 40.5 777.53 40.08 776.94 39.66M788.81 31.7 782.88 31.7 782.28 35.47 782.88 35.05 784.66 34.63 786.44 34.63 788.22 35.05 789.4 35.89 790 37.15 790 37.99 789.4 39.24 788.22 40.08 786.44 40.5 784.66 40.5 782.88 40.08 782.28 39.66 781.69 38.82M801.27 32.96 800.68 32.12 798.9 31.7 797.71 31.7 795.93 32.12 794.74 33.38 794.15 35.47 794.15 37.57 794.74 39.24 795.93 40.08 797.71 40.5 798.3 40.5 800.08 40.08 801.27 39.24 801.86 37.99 801.86 37.57 801.27 36.31 800.08 35.47 798.3 35.05 797.71 35.05 795.93 35.47 794.74 36.31 794.15 37.57M806.02 33.8 806.02 33.38 806.61 32.54 807.2 32.12 808.39 31.7 810.76 31.7 811.95 32.12 812.54 32.54 813.14 33.38 813.14 34.21 812.54 35.05 811.36 36.31 805.42 40.5 813.73 40.5M824.41 31.7 818.48 31.7 817.88 35.47 818.48 35.05 820.26 34.63 822.04 34.63 823.82 35.05 825 35.89 825.6 37.15 825.6 37.99 825 39.24 823.82 40.08 822.04 40.5 820.26 40.5 818.48 40.08 817.88 39.66 817.29 38.82M829.75 31.7 829.75 40.5M829.75 31.7 837.46 31.7M829.75 35.89 834.5 35.89M829.75 40.5 837.46 40.5M842.21 40.08 841.62 40.5 841.02 40.08 841.62 39.66 842.21 40.08 842.21 40.92 841.62 41.76 841.02 42.18M861.79 31.7 855.86 37.57 864.76 37.57M861.79 31.7 861.79 40.5M868.32 33.8 868.32 33.38 868.91 32.54 869.5 32.12 870.69 31.7 873.06 31.7 874.25 32.12 874.84 32.54 875.44 33.38 875.44 34.21 874.84 35.05 873.66 36.31 867.72 40.5 876.03 40.5M880.78 39.66 880.18 40.08 880.78 40.5 881.37 40.08 880.78 39.66M892.64 31.7 886.71 31.7 886.12 35.47 886.71 35.05 888.49 34.63 890.27 34.63 892.05 35.05 893.24 35.89 893.83 37.15 893.83 37.99 893.24 39.24 892.05 40.08 890.27 40.5 888.49 40.5 886.71 40.08 886.12 39.66 885.52 38.82M905.11 32.96 904.51 32.12 902.73 31.7 901.55 31.7 899.77 32.12 898.58 33.38 897.99 35.47 897.99 37.57 898.58 39.24 899.77 40.08 901.55 40.5 902.14 40.5 903.92 40.08 905.11 39.24 905.7 37.99 905.7 37.57 905.11 36.31 903.92 35.47 902.14 35.05 901.55 35.05 899.77 35.47 898.58 36.31 897.99 37.57M909.85 33.8 909.85 33.38 910.45 32.54 911.04 32.12 912.23 31.7 914.6 31.7 915.79 32.12 916.38 32.54 916.97 33.38 916.97 34.21 916.38 35.05 915.19 36.31 909.26 40.5 917.57 40.5M928.25 31.7 922.31 31.7 921.72 35.47 922.31 35.05 924.09 34.63 925.87 34.63 927.65 35.05 928.84 35.89 929.43 37.15 929.43 37.99 928.84 39.24 927.65 40.08 925.87 40.5 924.09 40.5 922.31 40.08 921.72 39.66 921.13 38.82M933.59 31.7 933.59 40.5M933.59 31.7 941.89 40.5M941.89 31.7 941.89 40.5M946.05 30.02 947.23 30.86 948.42 32.12 949.61 33.8 950.2 35.89 950.2 37.57 949.61 39.66 948.42 41.34 947.23 42.6 946.05 43.43" stroke="#8200dc" stroke-width="0.7" />
<path d="M779.5 49.7 779.5 58.5M779.5 49.7 784.85 49.7 786.63 50.12 787.23 50.54 787.82 51.38 787.82 52.63 787.23 53.47 786.63 53.89 784.85 54.31 779.5 54.31M794.36 52.63 793.17 53.05 791.98 53.89 791.39 55.15 791.39 55.99 791.98 57.24 793.17 58.08 794.36 58.5 796.14 58.5 797.33 58.08 798.52 57.24 799.12 55.99 799.12 55.15 798.52 53.89 797.33 53.05 796.14 52.63 794.36 52.63M802.68 49.7 803.28 50.12 803.87 49.7 803.28 49.28 802.68 49.7M803.28 52.63 803.28 58.5M808.03 52.63 808.03 58.5M808.03 54.31 809.82 53.05 811.01 52.63 812.79 52.63 813.98 53.05 814.57 54.31 814.57 58.5M819.92 49.7 819.92 56.82 820.52 58.08 821.71 58.5 822.9 58.5M818.14 52.63 822.3 52.63M838.95 49.7 834.19 58.5M838.95 49.7 843.7 58.5M835.97 55.57 841.92 55.57M846.67 49.7 846.67 58.5M852.02 49.7 852.02 56.82 852.62 58.08 853.81 58.5 855 58.5M850.24 52.63 854.4 52.63M857.97 49.7 858.56 50.12 859.16 49.7 858.56 49.28 857.97 49.7M858.56 52.63 858.56 58.5M863.91 49.7 863.91 56.82 864.51 58.08 865.7 58.5 866.89 58.5M862.13 52.63 866.29 52.63M870.45 52.63 870.45 56.82 871.05 58.08 872.24 58.5 874.02 58.5 875.21 58.08 876.99 56.82M876.99 52.63 876.99 58.5M888.29 49.7 888.29 58.5M888.29 53.89 887.1 53.05 885.91 52.63 884.13 52.63 882.94 53.05 881.75 53.89 881.15 55.15 881.15 55.99 881.75 57.24 882.94 58.08 884.13 58.5 885.91 58.5 887.1 58.08 888.29 57.24M892.45 55.15 899.58 55.15 899.58 54.31 898.99 53.47 898.39 53.05 897.2 52.63 895.42 52.63 894.23 53.05 893.04 53.89 892.45 55.15 892.45 55.99 893.04 57.24 894.23 58.08 895.42 58.5 897.2 58.5 898.39 58.08 899.58 57.24M918.6 49.7 912.66 55.57 921.58 55.57M918.6 49.7 918.6 58.5M932.87 49.7 926.93 58.5M924.55 49.7 932.87 49.7M944.17 52.63 943.57 53.89 942.38 54.73 940.6 55.15 940 55.15 938.22 54.73 937.03 53.89 936.44 52.63 936.44 52.21 937.03 50.96 938.22 50.12 940 49.7 940.6 49.7 942.38 50.12 943.57 50.96 944.17 52.63 944.17 54.73 943.57 56.82 942.38 58.08 940.6 58.5 939.41 58.5 937.63 58.08 937.03 57.24M948.92 52.63 948.92 58.5M948.92 54.31 950.71 53.05 951.89 52.63 953.68 52.63 954.87 53.05 955.46 54.31 955.46 58.5M955.46 54.31 957.24 53.05 958.43 52.63 960.22 52.63 961.41 53.05 962 54.31 962 58.5" stroke="#8200dc" stroke-width="0.7" />
<path d="M687.7 67.7 687.7 76.5M687.7 67.7 692.46 76.5M697.22 67.7 692.46 76.5M697.22 67.7 697.22 76.5M704.36 70.63 703.17 71.05 701.98 71.89 701.39 73.15 701.39 73.99 701.98 75.24 703.17 76.08 704.36 76.5 706.15 76.5 707.34 76.08 708.53 75.24 709.12 73.99 709.12 73.15 708.53 71.89 707.34 71.05 706.15 70.63 704.36 70.63M719.83 67.7 719.83 76.5M719.83 71.89 718.64 71.05 717.45 70.63 715.67 70.63 714.48 71.05 713.29 71.89 712.69 73.15 712.69 73.99 713.29 75.24 714.48 76.08 715.67 76.5 717.45 76.5 718.64 76.08 719.83 75.24M724 73.15 731.14 73.15 731.14 72.31 730.54 71.47 729.95 71.05 728.76 70.63 726.97 70.63 725.78 71.05 724.59 71.89 724 73.15 724 73.99 724.59 75.24 725.78 76.08 726.97 76.5 728.76 76.5 729.95 76.08 731.14 75.24M735.3 67.7 735.3 76.5M749.58 67.7 749.58 76.5M749.58 67.7 754.94 67.7 756.72 68.12 757.32 68.54 757.91 69.38 757.91 70.63 757.32 71.47 756.72 71.89 754.94 72.31 749.58 72.31M764.46 70.63 763.27 71.05 762.08 71.89 761.48 73.15 761.48 73.99 762.08 75.24 763.27 76.08 764.46 76.5 766.24 76.5 767.43 76.08 768.62 75.24 769.22 73.99 769.22 73.15 768.62 71.89 767.43 71.05 766.24 70.63 764.46 70.63M772.79 67.7 773.38 68.12 773.98 67.7 773.38 67.28 772.79 67.7M773.38 70.63 773.38 76.5M778.14 70.63 778.14 76.5M778.14 72.31 779.93 71.05 781.12 70.63 782.9 70.63 784.09 71.05 784.69 72.31 784.69 76.5M790.04 67.7 790.04 74.82 790.64 76.08 791.83 76.5 793.02 76.5M788.26 70.63 792.42 70.63M809.08 67.7 804.32 76.5M809.08 67.7 813.84 76.5M806.11 73.57 812.06 73.57M816.82 67.7 816.82 76.5M822.17 67.7 822.17 74.82 822.77 76.08 823.96 76.5 825.15 76.5M820.39 70.63 824.55 70.63M828.12 67.7 828.72 68.12 829.31 67.7 828.72 67.28 828.12 67.7M828.72 70.63 828.72 76.5M834.07 67.7 834.07 74.82 834.67 76.08 835.86 76.5 837.05 76.5M832.29 70.63 836.45 70.63M840.62 70.63 840.62 74.82 841.21 76.08 842.4 76.5 844.19 76.5 845.38 76.08 847.16 74.82M847.16 70.63 847.16 76.5M858.47 67.7 858.47 76.5M858.47 71.89 857.28 71.05 856.09 70.63 854.3 70.63 853.11 71.05 851.92 71.89 851.33 73.15 851.33 73.99 851.92 75.24 853.11 76.08 854.3 76.5 856.09 76.5 857.28 76.08 858.47 75.24M862.63 73.15 869.77 73.15 869.77 72.31 869.18 71.47 868.58 71.05 867.39 70.63 865.61 70.63 864.42 71.05 863.23 71.89 862.63 73.15 862.63 73.99 863.23 75.24 864.42 76.08 865.61 76.5 867.39 76.5 868.58 76.08 869.77 75.24M890.6 68.96 890 68.12 888.22 67.7 887.03 67.7 885.24 68.12 884.05 69.38 883.46 71.47 883.46 73.57 884.05 75.24 885.24 76.08 887.03 76.5 887.62 76.5 889.41 76.08 890.6 75.24 891.19 73.99 891.19 73.57 890.6 72.31 889.41 71.47 887.62 71.05 887.03 71.05 885.24 71.47 884.05 72.31 883.46 73.57M895.36 69.8 895.36 69.38 895.95 68.54 896.55 68.12 897.74 67.7 900.12 67.7 901.31 68.12 901.9 68.54 902.5 69.38 902.5 70.21 901.9 71.05 900.71 72.31 894.76 76.5 903.09 76.5M907.26 69.8 907.26 69.38 907.85 68.54 908.45 68.12 909.64 67.7 912.02 67.7 913.21 68.12 913.8 68.54 914.4 69.38 914.4 70.21 913.8 71.05 912.61 72.31 906.66 76.5 914.99 76.5M919.75 75.66 919.16 76.08 919.75 76.5 920.35 76.08 919.75 75.66M932.84 67.7 926.89 76.5M924.51 67.7 932.84 67.7M943.55 67.7 937.6 67.7 937.01 71.47 937.6 71.05 939.39 70.63 941.17 70.63 942.96 71.05 944.15 71.89 944.74 73.15 944.74 73.99 944.15 75.24 942.96 76.08 941.17 76.5 939.39 76.5 937.6 76.08 937.01 75.66 936.41 74.82M948.91 70.63 948.91 76.5M948.91 72.31 950.69 71.05 951.88 70.63 953.67 70.63 954.86 71.05 955.45 72.31 955.45 76.5M955.45 72.31 957.24 71.05 958.43 70.63 960.21 70.63 961.4 71.05 962 72.31 962 76.5" stroke="#8200dc" stroke-width="0.7" />
<path d="M359.83 33.3 359.83 50M360.78 33.3 360.78 50M373.04 33.3 360.78 43.64M365.49 40.46 373.04 50M364.55 40.46 372.1 50M357 33.3 363.61 33.3M369.27 33.3 374.93 33.3M357 50 363.61 50M369.27 50 374.93 50M380.59 40.46 380.59 41.25 379.65 41.25 379.65 40.46 380.59 39.66 382.48 38.87 386.26 38.87 388.14 39.66 389.09 40.46 390.03 42.05 390.03 47.61 390.98 49.2 391.92 50M389.09 40.46 389.09 47.61 390.03 49.2 391.92 50 392.86 50M389.09 42.05 388.14 42.84 382.48 43.64 379.65 44.43 378.71 46.02 378.71 47.61 379.65 49.2 382.48 50 385.31 50 387.2 49.2 389.09 47.61M382.48 43.64 380.59 44.43 379.65 46.02 379.65 47.61 380.59 49.2 382.48 50M399.47 38.87 399.47 50M400.41 38.87 400.41 50M400.41 41.25 402.3 39.66 405.13 38.87 407.02 38.87 409.85 39.66 410.79 41.25 410.79 50M407.02 38.87 408.91 39.66 409.85 41.25 409.85 50M410.79 41.25 412.68 39.66 415.51 38.87 417.4 38.87 420.23 39.66 421.18 41.25 421.18 50M417.4 38.87 419.29 39.66 420.23 41.25 420.23 50M396.64 38.87 400.41 38.87M396.64 50 403.24 50M407.02 50 413.62 50M417.4 50 424.01 50M429.67 43.64 440.99 43.64 440.99 42.05 440.05 40.46 439.11 39.66 437.22 38.87 434.39 38.87 431.56 39.66 429.67 41.25 428.73 43.64 428.73 45.23 429.67 47.61 431.56 49.2 434.39 50 436.27 50 439.11 49.2 440.99 47.61M440.05 43.64 440.05 41.25 439.11 39.66M434.39 38.87 432.5 39.66 430.61 41.25 429.67 43.64 429.67 45.23 430.61 47.61 432.5 49.2 434.39 50M448.54 38.87 448.54 50M449.49 38.87 449.49 50M449.49 41.25 451.38 39.66 454.21 38.87 456.09 38.87 458.93 39.66 459.87 41.25 459.87 50M456.09 38.87 457.98 39.66 458.93 41.25 458.93 50M445.71 38.87 449.49 38.87M445.71 50 452.32 50M456.09 50 462.7 50M469.31 33.3 468.36 34.1 469.31 34.89 470.25 34.1 469.31 33.3M469.31 38.87 469.31 50M470.25 38.87 470.25 50M466.48 38.87 470.25 38.87M466.48 50 473.08 50M489.12 41.25 488.18 42.05 489.12 42.84 490.07 42.05 490.07 41.25 488.18 39.66 486.29 38.87 483.46 38.87 480.63 39.66 478.74 41.25 477.8 43.64 477.8 45.23 478.74 47.61 480.63 49.2 483.46 50 485.35 50 488.18 49.2 490.07 47.61M483.46 38.87 481.57 39.66 479.69 41.25 478.74 43.64 478.74 45.23 479.69 47.61 481.57 49.2 483.46 50M496.68 43.64 508 43.64 508 42.05 507.06 40.46 506.11 39.66 504.23 38.87 501.39 38.87 498.56 39.66 496.68 41.25 495.73 43.64 495.73 45.23 496.68 47.61 498.56 49.2 501.39 50 503.28 50 506.11 49.2 508 47.61M507.06 43.64 507.06 41.25 506.11 39.66M501.39 38.87 499.51 39.66 497.62 41.25 496.68 43.64 496.68 45.23 497.62 47.61 499.51 49.2 501.39 50" stroke="#c3d9c3" stroke-width="2.0" />
<path d="M357.83 31.3 357.83 48M358.78 31.3 358.78 48M371.04 31.3 358.78 41.64M363.49 38.46 371.04 48M362.55 38.46 370.1 48M355 31.3 361.61 31.3M367.27 31.3 372.93 31.3M355 48 361.61 48M367.27 48 372.93 48M378.59 38.46 378.59 39.25 377.65 39.25 377.65 38.46 378.59 37.66 380.48 36.87 384.26 36.87 386.14 37.66 387.09 38.46 388.03 40.05 388.03 45.61 388.98 47.2 389.92 48M387.09 38.46 387.09 45.61 388.03 47.2 389.92 48 390.86 48M387.09 40.05 386.14 40.84 380.48 41.64 377.65 42.43 376.71 44.02 376.71 45.61 377.65 47.2 380.48 48 383.31 48 385.2 47.2 387.09 45.61M380.48 41.64 378.59 42.43 377.65 44.02 377.65 45.61 378.59 47.2 380.48 48M397.47 36.87 397.47 48M398.41 36.87 398.41 48M398.41 39.25 400.3 37.66 403.13 36.87 405.02 36.87 407.85 37.66 408.79 39.25 408.79 48M405.02 36.87 406.91 37.66 407.85 39.25 407.85 48M408.79 39.25 410.68 37.66 413.51 36.87 415.4 36.87 418.23 37.66 419.18 39.25 419.18 48M415.4 36.87 417.29 37.66 418.23 39.25 418.23 48M394.64 36.87 398.41 36.87M394.64 48 401.24 48M405.02 48 411.62 48M415.4 48 422.01 48M427.67 41.64 438.99 41.64 438.99 40.05 438.05 38.46 437.11 37.66 435.22 36.87 432.39 36.87 429.56 37.66 427.67 39.25 426.73 41.64 426.73 43.23 427.67 45.61 429.56 47.2 432.39 48 434.27 48 437.11 47.2 438.99 45.61M438.05 41.64 438.05 39.25 437.11 37.66M432.39 36.87 430.5 37.66 428.61 39.25 427.67 41.64 427.67 43.23 428.61 45.61 430.5 47.2 432.39 48M446.54 36.87 446.54 48M447.49 36.87 447.49 48M447.49 39.25 449.38 37.66 452.21 36.87 454.09 36.87 456.93 37.66 457.87 39.25 457.87 48M454.09 36.87 455.98 37.66 456.93 39.25 456.93 48M443.71 36.87 447.49 36.87M443.71 48 450.32 48M454.09 48 460.7 48M467.31 31.3 466.36 32.1 467.31 32.89 468.25 32.1 467.31 31.3M467.31 36.87 467.31 48M468.25 36.87 468.25 48M464.48 36.87 468.25 36.87M464.48 48 471.08 48M487.12 39.25 486.18 40.05 487.12 40.84 488.07 40.05 488.07 39.25 486.18 37.66 484.29 36.87 481.46 36.87 478.63 37.66 476.74 39.25 475.8 41.64 475.8 43.23 476.74 45.61 478.63 47.2 481.46 48 483.35 48 486.18 47.2 488.07 45.61M481.46 36.87 479.57 37.66 477.69 39.25 476.74 41.64 476.74 43.23 477.69 45.61 479.57 47.2 481.46 48M494.68 41.64 506 41.64 506 40.05 505.06 38.46 504.11 37.66 502.23 36.87 499.39 36.87 496.56 37.66 494.68 39.25 493.73 41.64 493.73 43.23 494.68 45.61 496.56 47.2 499.39 48 501.28 48 504.11 47.2 506 45.61M505.06 41.64 505.06 39.25 504.11 37.66M499.39 36.87 497.51 37.66 495.62 39.25 494.68 41.64 494.68 43.23 495.62 45.61 497.51 47.2 499.39 48" stroke="#000" stroke-width="1.9" />
<path d="M427.78 962.9 427.78 973.3M428.38 962.9 428.38 973.3M436.09 962.9 428.38 969.34M431.34 967.36 436.09 973.3M430.75 967.36 435.5 973.3M426 962.9 430.16 962.9M433.72 962.9 437.28 962.9M426 973.3 430.16 973.3M433.72 973.3 437.28 973.3M440.84 967.36 440.84 967.85 440.25 967.85 440.25 967.36 440.84 966.86 442.03 966.37 444.41 966.37 445.59 966.86 446.19 967.36 446.78 968.35 446.78 971.81 447.38 972.8 447.97 973.3M446.19 967.36 446.19 971.81 446.78 972.8 447.97 973.3 448.56 973.3M446.19 968.35 445.59 968.84 442.03 969.34 440.25 969.83 439.66 970.82 439.66 971.81 440.25 972.8 442.03 973.3 443.81 973.3 445 972.8 446.19 971.81M442.03 969.34 440.84 969.83 440.25 970.82 440.25 971.81 440.84 972.8 442.03 973.3M452.72 966.37 452.72 973.3M453.31 966.37 453.31 973.3M453.31 967.85 454.5 966.86 456.28 966.37 457.47 966.37 459.25 966.86 459.84 967.85 459.84 973.3M457.47 966.37 458.66 966.86 459.25 967.85 459.25 973.3M459.84 967.85 461.03 966.86 462.81 966.37 464 966.37 465.78 966.86 466.38 967.85 466.38 973.3M464 966.37 465.19 966.86 465.78 967.85 465.78 973.3M450.94 966.37 453.31 966.37M450.94 973.3 455.09 973.3M457.47 973.3 461.62 973.3M464 973.3 468.16 973.3M471.72 969.34 478.84 969.34 478.84 968.35 478.25 967.36 477.66 966.86 476.47 966.37 474.69 966.37 472.91 966.86 471.72 967.85 471.12 969.34 471.12 970.33 471.72 971.81 472.91 972.8 474.69 973.3 475.88 973.3 477.66 972.8 478.84 971.81M478.25 969.34 478.25 967.85 477.66 966.86M474.69 966.37 473.5 966.86 472.31 967.85 471.72 969.34 471.72 970.33 472.31 971.81 473.5 972.8 474.69 973.3M483.59 966.37 483.59 973.3M484.19 966.37 484.19 973.3M484.19 967.85 485.38 966.86 487.16 966.37 488.34 966.37 490.12 966.86 490.72 967.85 490.72 973.3M488.34 966.37 489.53 966.86 490.12 967.85 490.12 973.3M481.81 966.37 484.19 966.37M481.81 973.3 485.97 973.3M488.34 973.3 492.5 973.3M496.66 962.9 496.06 963.4 496.66 963.89 497.25 963.4 496.66 962.9M496.66 966.37 496.66 973.3M497.25 966.37 497.25 973.3M494.88 966.37 497.25 966.37M494.88 973.3 499.03 973.3M509.12 967.85 508.53 968.35 509.12 968.84 509.72 968.35 509.72 967.85 508.53 966.86 507.34 966.37 505.56 966.37 503.78 966.86 502.59 967.85 502 969.34 502 970.33 502.59 971.81 503.78 972.8 505.56 973.3 506.75 973.3 508.53 972.8 509.72 971.81M505.56 966.37 504.38 966.86 503.19 967.85 502.59 969.34 502.59 970.33 503.19 971.81 504.38 972.8 505.56 973.3M513.88 969.34 521 969.34 521 968.35 520.41 967.36 519.81 966.86 518.62 966.37 516.84 966.37 515.06 966.86 513.88 967.85 513.28 969.34 513.28 970.33 513.88 971.81 515.06 972.8 516.84 973.3 518.03 973.3 519.81 972.8 521 971.81M520.41 969.34 520.41 967.85 519.81 966.86M516.84 966.37 515.66 966.86 514.47 967.85 513.88 969.34 513.88 970.33 514.47 971.81 515.66 972.8 516.84 973.3" stroke="#cfe6cf" stroke-width="0.9" />
<path d="M426.28 961.4 426.28 971.8M426.88 961.4 426.88 971.8M434.59 961.4 426.88 967.84M429.84 965.86 434.59 971.8M429.25 965.86 434 971.8M424.5 961.4 428.66 961.4M432.22 961.4 435.78 961.4M424.5 971.8 428.66 971.8M432.22 971.8 435.78 971.8M439.34 965.86 439.34 966.35 438.75 966.35 438.75 965.86 439.34 965.36 440.53 964.87 442.91 964.87 444.09 965.36 444.69 965.86 445.28 966.85 445.28 970.31 445.88 971.3 446.47 971.8M444.69 965.86 444.69 970.31 445.28 971.3 446.47 971.8 447.06 971.8M444.69 966.85 444.09 967.34 440.53 967.84 438.75 968.33 438.16 969.32 438.16 970.31 438.75 971.3 440.53 971.8 442.31 971.8 443.5 971.3 444.69 970.31M440.53 967.84 439.34 968.33 438.75 969.32 438.75 970.31 439.34 971.3 440.53 971.8M451.22 964.87 451.22 971.8M451.81 964.87 451.81 971.8M451.81 966.35 453 965.36 454.78 964.87 455.97 964.87 457.75 965.36 458.34 966.35 458.34 971.8M455.97 964.87 457.16 965.36 457.75 966.35 457.75 971.8M458.34 966.35 459.53 965.36 461.31 964.87 462.5 964.87 464.28 965.36 464.88 966.35 464.88 971.8M462.5 964.87 463.69 965.36 464.28 966.35 464.28 971.8M449.44 964.87 451.81 964.87M449.44 971.8 453.59 971.8M455.97 971.8 460.12 971.8M462.5 971.8 466.66 971.8M470.22 967.84 477.34 967.84 477.34 966.85 476.75 965.86 476.16 965.36 474.97 964.87 473.19 964.87 471.41 965.36 470.22 966.35 469.62 967.84 469.62 968.83 470.22 970.31 471.41 971.3 473.19 971.8 474.38 971.8 476.16 971.3 477.34 970.31M476.75 967.84 476.75 966.35 476.16 965.36M473.19 964.87 472 965.36 470.81 966.35 470.22 967.84 470.22 968.83 470.81 970.31 472 971.3 473.19 971.8M482.09 964.87 482.09 971.8M482.69 964.87 482.69 971.8M482.69 966.35 483.88 965.36 485.66 964.87 486.84 964.87 488.62 965.36 489.22 966.35 489.22 971.8M486.84 964.87 488.03 965.36 488.62 966.35 488.62 971.8M480.31 964.87 482.69 964.87M480.31 971.8 484.47 971.8M486.84 971.8 491 971.8M495.16 961.4 494.56 961.9 495.16 962.39 495.75 961.9 495.16 961.4M495.16 964.87 495.16 971.8M495.75 964.87 495.75 971.8M493.38 964.87 495.75 964.87M493.38 971.8 497.53 971.8M507.62 966.35 507.03 966.85 507.62 967.34 508.22 966.85 508.22 966.35 507.03 965.36 505.84 964.87 504.06 964.87 502.28 965.36 501.09 966.35 500.5 967.84 500.5 968.83 501.09 970.31 502.28 971.3 504.06 971.8 505.25 971.8 507.03 971.3 508.22 970.31M504.06 964.87 502.88 965.36 501.69 966.35 501.09 967.84 501.09 968.83 501.69 970.31 502.88 971.3 504.06 971.8M512.38 967.84 519.5 967.84 519.5 966.85 518.91 965.86 518.31 965.36 517.12 964.87 515.34 964.87 513.56 965.36 512.38 966.35 511.78 967.84 511.78 968.83 512.38 970.31 513.56 971.3 515.34 971.8 516.53 971.8 518.31 971.3 519.5 970.31M518.91 967.84 518.91 966.35 518.31 965.36M515.34 964.87 514.16 965.36 512.97 966.35 512.38 967.84 512.38 968.83 512.97 970.31 514.16 971.3 515.34 971.8" stroke="#222" stroke-width="0.95" />
<path d="M-31.38 -14 -31.38 0M-30.92 -14 -30.92 0M-30.92 -7.33 -30 -8.67 -29.09 -9.33 -28.17 -9.33 -26.8 -8.67 -25.88 -7.33 -25.42 -5.33 -25.42 -4 -25.88 -2 -26.8 -0.67 -28.17 0 -29.09 0 -30 -0.67 -30.92 -2M-28.17 -9.33 -27.25 -8.67 -26.34 -7.33 -25.88 -5.33 -25.88 -4 -26.34 -2 -27.25 -0.67 -28.17 0M-32.75 -14 -30.92 -14M-22.22 -9.33 -19.47 0M-21.76 -9.33 -19.47 -1.33M-16.72 -9.33 -19.47 0 -20.38 2.67 -21.3 4 -22.22 4.67 -22.67 4.67 -23.13 4 -22.67 3.33 -22.22 4M-23.13 -9.33 -20.38 -9.33M-18.55 -9.33 -15.8 -9.33M-3.44 -14 -6.64 0M-3.44 -14 -0.23 0M-3.44 -12 -0.69 0M-5.73 -4 -1.6 -4M-7.56 0 -4.81 0M-2.06 0 0.69 0M3.44 -9.33 3.44 0M3.89 -9.33 3.89 0M3.89 -7.33 4.81 -8.67 6.18 -9.33 7.1 -9.33 8.47 -8.67 8.93 -7.33 8.93 0M7.1 -9.33 8.02 -8.67 8.47 -7.33 8.47 0M2.06 -9.33 3.89 -9.33M2.06 0 5.27 0M7.1 0 10.31 0M14.89 -9.33 13.97 -8.67 13.51 -8 13.05 -6.67 13.05 -5.33 13.51 -4 13.97 -3.33 14.89 -2.67 15.8 -2.67 16.72 -3.33 17.18 -4 17.63 -5.33 17.63 -6.67 17.18 -8 16.72 -8.67 15.8 -9.33 14.89 -9.33M13.97 -8.67 13.51 -7.33 13.51 -4.67 13.97 -3.33M16.72 -3.33 17.18 -4.67 17.18 -7.33 16.72 -8.67M17.18 -8 17.63 -8.67 18.55 -9.33 18.55 -8.67 17.63 -8.67M13.51 -4 13.05 -3.33 12.6 -2 12.6 -1.33 13.05 0 14.43 0.67 16.72 0.67 18.09 1.33 18.55 2M12.6 -1.33 13.05 -0.67 14.43 0 16.72 0 18.09 0.67 18.55 2 18.55 2.67 18.09 4 16.72 4.67 13.97 4.67 12.6 4 12.14 2.67 12.14 2 12.6 0.67 13.97 0M21.76 -5.33 27.25 -5.33 27.25 -6.67 26.8 -8 26.34 -8.67 25.42 -9.33 24.05 -9.33 22.67 -8.67 21.76 -7.33 21.3 -5.33 21.3 -4 21.76 -2 22.67 -0.67 24.05 0 24.96 0 26.34 -0.67 27.25 -2M26.8 -5.33 26.8 -7.33 26.34 -8.67M24.05 -9.33 23.13 -8.67 22.22 -7.33 21.76 -5.33 21.76 -4 22.22 -2 23.13 -0.67 24.05 0M30.92 -14 30.92 0M31.38 -14 31.38 0M29.54 -14 31.38 -14M29.54 0 32.75 0" stroke="#cddccd" stroke-width="0.9" transform="translate(983.6 693) rotate(-90)"/>
<path d="M-22.3 -14.1 -22.3 0M-22.3 -14.1 -18.2 -14.1 -16.84 -13.43 -16.38 -12.76 -15.93 -11.41 -15.93 -9.4 -16.38 -8.06 -16.84 -7.39 -18.2 -6.71 -22.3 -6.71M-12.74 -14.1 -12.74 0M-12.74 -14.1 -8.65 -14.1 -7.28 -13.43 -6.83 -12.76 -6.37 -11.41 -6.37 -10.07 -6.83 -8.73 -7.28 -8.06 -8.65 -7.39 -12.74 -7.39M-9.56 -7.39 -6.37 0M-3.19 -14.1 -3.19 0M-3.19 -14.1 0.46 0M4.1 -14.1 0.46 0M4.1 -14.1 4.1 0M13.65 -12.09 12.74 -13.43 11.38 -14.1 9.56 -14.1 8.19 -13.43 7.28 -12.09 7.28 -10.74 7.74 -9.4 8.19 -8.73 9.1 -8.06 11.83 -6.71 12.74 -6.04 13.2 -5.37 13.65 -4.03 13.65 -2.01 12.74 -0.67 11.38 0 9.56 0 8.19 -0.67 7.28 -2.01M16.84 -14.1 16.84 0M16.84 0 22.3 0" stroke="#00a0ff" stroke-width="1.2" transform="translate(25.6 213.3) rotate(-90)"/>
<path d="M-93 -14.1 -93 0M-93 -14.1 -88.85 -14.1 -87.46 -13.43 -87 -12.76 -86.54 -11.41 -86.54 -9.4 -87 -8.06 -87.46 -7.39 -88.85 -6.71 -93 -6.71M-83.31 -9.4 -83.31 0M-83.31 -5.37 -82.85 -7.39 -81.92 -8.73 -81 -9.4 -79.62 -9.4M-77.77 -5.37 -72.23 -5.37 -72.23 -6.71 -72.69 -8.06 -73.15 -8.73 -74.08 -9.4 -75.46 -9.4 -76.38 -8.73 -77.31 -7.39 -77.77 -5.37 -77.77 -4.03 -77.31 -2.01 -76.38 -0.67 -75.46 0 -74.08 0 -73.15 -0.67 -72.23 -2.01M-64.38 -7.39 -64.85 -8.73 -66.23 -9.4 -67.62 -9.4 -69 -8.73 -69.46 -7.39 -69 -6.04 -68.08 -5.37 -65.77 -4.7 -64.85 -4.03 -64.38 -2.69 -64.38 -2.01 -64.85 -0.67 -66.23 0 -67.62 0 -69 -0.67 -69.46 -2.01M-56.54 -7.39 -57 -8.73 -58.38 -9.4 -59.77 -9.4 -61.15 -8.73 -61.62 -7.39 -61.15 -6.04 -60.23 -5.37 -57.92 -4.7 -57 -4.03 -56.54 -2.69 -56.54 -2.01 -57 -0.67 -58.38 0 -59.77 0 -61.15 -0.67 -61.62 -2.01M-53.31 -9.4 -53.31 -2.69 -52.85 -0.67 -51.92 0 -50.54 0 -49.62 -0.67 -48.23 -2.69M-48.23 -9.4 -48.23 0M-44.54 -9.4 -44.54 0M-44.54 -5.37 -44.08 -7.39 -43.15 -8.73 -42.23 -9.4 -40.85 -9.4M-39 -5.37 -33.46 -5.37 -33.46 -6.71 -33.92 -8.06 -34.38 -8.73 -35.31 -9.4 -36.69 -9.4 -37.62 -8.73 -38.54 -7.39 -39 -5.37 -39 -4.03 -38.54 -2.01 -37.62 -0.67 -36.69 0 -35.31 0 -34.38 -0.67 -33.46 -2.01M-22.85 -14.1 -22.85 0M-22.85 -14.1 -18.69 -14.1 -17.31 -13.43 -16.85 -12.76 -16.38 -11.41 -16.38 -10.07 -16.85 -8.73 -17.31 -8.06 -18.69 -7.39 -22.85 -7.39M-19.62 -7.39 -16.38 0M-13.62 -5.37 -8.08 -5.37 -8.08 -6.71 -8.54 -8.06 -9 -8.73 -9.92 -9.4 -11.31 -9.4 -12.23 -8.73 -13.15 -7.39 -13.62 -5.37 -13.62 -4.03 -13.15 -2.01 -12.23 -0.67 -11.31 0 -9.92 0 -9 -0.67 -8.08 -2.01M0.23 -14.1 0.23 0M0.23 -7.39 -0.69 -8.73 -1.62 -9.4 -3 -9.4 -3.92 -8.73 -4.85 -7.39 -5.31 -5.37 -5.31 -4.03 -4.85 -2.01 -3.92 -0.67 -3 0 -1.62 0 -0.69 -0.67 0.23 -2.01M3.92 -9.4 3.92 -2.69 4.38 -0.67 5.31 0 6.69 0 7.62 -0.67 9 -2.69M9 -9.4 9 0M17.77 -7.39 16.85 -8.73 15.92 -9.4 14.54 -9.4 13.62 -8.73 12.69 -7.39 12.23 -5.37 12.23 -4.03 12.69 -2.01 13.62 -0.67 14.54 0 15.92 0 16.85 -0.67 17.77 -2.01M20.54 -5.37 26.08 -5.37 26.08 -6.71 25.62 -8.06 25.15 -8.73 24.23 -9.4 22.85 -9.4 21.92 -8.73 21 -7.39 20.54 -5.37 20.54 -4.03 21 -2.01 21.92 -0.67 22.85 0 24.23 0 25.15 -0.67 26.08 -2.01M34.38 -14.1 34.38 0M34.38 -7.39 33.46 -8.73 32.54 -9.4 31.15 -9.4 30.23 -8.73 29.31 -7.39 28.85 -5.37 28.85 -4.03 29.31 -2.01 30.23 -0.67 31.15 0 32.54 0 33.46 -0.67 34.38 -2.01M45.92 -14.1 45.92 -2.69 46.38 -0.67 47.31 0 48.23 0M44.54 -9.4 47.77 -9.4M52.85 -9.4 51.92 -8.73 51 -7.39 50.54 -5.37 50.54 -4.03 51 -2.01 51.92 -0.67 52.85 0 54.23 0 55.15 -0.67 56.08 -2.01 56.54 -4.03 56.54 -5.37 56.08 -7.39 55.15 -8.73 54.23 -9.4 52.85 -9.4M67.15 -14.1 67.15 0M67.15 -14.1 70.85 0M74.54 -14.1 70.85 0M74.54 -14.1 74.54 0M84.23 -12.09 83.31 -13.43 81.92 -14.1 80.08 -14.1 78.69 -13.43 77.77 -12.09 77.77 -10.74 78.23 -9.4 78.69 -8.73 79.62 -8.06 82.38 -6.71 83.31 -6.04 83.77 -5.37 84.23 -4.03 84.23 -2.01 83.31 -0.67 81.92 0 80.08 0 78.69 -0.67 77.77 -2.01M87.46 -14.1 87.46 0M87.46 0 93 0" stroke="#00a0ff" stroke-width="1.2" transform="translate(49 213.5) rotate(-90)"/>
<path d="M-15.22 -16.79 -16.16 -15.44 -17.09 -13.43 -18.03 -10.74 -18.5 -7.39 -18.5 -4.7 -18.03 -1.34 -17.09 1.34 -16.16 3.36 -15.22 4.7M-11.94 -14.1 -11.94 0M-11.94 -6.71 -10.54 -8.73 -9.6 -9.4 -8.2 -9.4 -7.26 -8.73 -6.79 -6.71 -6.79 0M-3.04 -14.1 -3.04 0M-3.04 -14.1 1.17 -14.1 2.58 -13.43 3.04 -12.76 3.51 -11.41 3.51 -9.4 3.04 -8.06 2.58 -7.39 1.17 -6.71 -3.04 -6.71M11.94 -9.4 11.94 0M11.94 -7.39 11.01 -8.73 10.07 -9.4 8.66 -9.4 7.73 -8.73 6.79 -7.39 6.32 -5.37 6.32 -4.03 6.79 -2.01 7.73 -0.67 8.66 0 10.07 0 11.01 -0.67 11.94 -2.01M15.22 -16.79 16.16 -15.44 17.09 -13.43 18.03 -10.74 18.5 -7.39 18.5 -4.7 18.03 -1.34 17.09 1.34 16.16 3.36 15.22 4.7" stroke="#111" stroke-width="1.2" transform="translate(108 213.5) rotate(-90)"/>
<path d="M-37.5 -14.1 -35.19 0M-32.87 -14.1 -35.19 0M-32.87 -14.1 -30.56 0M-28.24 -14.1 -30.56 0M-25.93 -14.1 -25.46 -13.43 -25 -14.1 -25.46 -14.77 -25.93 -14.1M-25.46 -9.4 -25.46 0M-21.76 -9.4 -21.76 0M-21.76 -6.71 -20.37 -8.73 -19.44 -9.4 -18.06 -9.4 -17.13 -8.73 -16.67 -6.71 -16.67 0M-7.87 -14.1 -7.87 0M-7.87 -7.39 -8.8 -8.73 -9.72 -9.4 -11.11 -9.4 -12.04 -8.73 -12.96 -7.39 -13.43 -5.37 -13.43 -4.03 -12.96 -2.01 -12.04 -0.67 -11.11 0 -9.72 0 -8.8 -0.67 -7.87 -2.01M9.72 -10.74 9.26 -12.09 8.33 -13.43 7.41 -14.1 5.56 -14.1 4.63 -13.43 3.7 -12.09 3.24 -10.74 2.78 -8.73 2.78 -5.37 3.24 -3.36 3.7 -2.01 4.63 -0.67 5.56 0 7.41 0 8.33 -0.67 9.26 -2.01 9.72 -3.36 9.72 -5.37M7.41 -5.37 9.72 -5.37M12.96 -14.1 12.96 -4.03 13.43 -2.01 14.35 -0.67 15.74 0 16.67 0 18.06 -0.67 18.98 -2.01 19.44 -4.03 19.44 -14.1M29.17 -12.09 28.24 -13.43 26.85 -14.1 25 -14.1 23.61 -13.43 22.69 -12.09 22.69 -10.74 23.15 -9.4 23.61 -8.73 24.54 -8.06 27.31 -6.71 28.24 -6.04 28.7 -5.37 29.17 -4.03 29.17 -2.01 28.24 -0.67 26.85 0 25 0 23.61 -0.67 22.69 -2.01M34.26 -14.1 34.26 0M31.02 -14.1 37.5 -14.1" stroke="#fa3c3c" stroke-width="1.2" transform="translate(25.6 368.5) rotate(-90)"/>
<path d="M-34 -11.41 -33.07 -12.09 -31.67 -14.1 -31.67 0M-23.29 -14.1 -24.68 -13.43 -25.62 -11.41 -26.08 -8.06 -26.08 -6.04 -25.62 -2.69 -24.68 -0.67 -23.29 0 -22.36 0 -20.96 -0.67 -20.03 -2.69 -19.56 -6.04 -19.56 -8.06 -20.03 -11.41 -20.96 -13.43 -22.36 -14.1 -23.29 -14.1M-16.3 -9.4 -16.3 0M-16.3 -6.71 -14.9 -8.73 -13.97 -9.4 -12.58 -9.4 -11.64 -8.73 -11.18 -6.71 -11.18 0M-11.18 -6.71 -9.78 -8.73 -8.85 -9.4 -7.45 -9.4 -6.52 -8.73 -6.05 -6.71 -6.05 0M4.19 -14.1 6.52 0M8.85 -14.1 6.52 0M8.85 -14.1 11.18 0M13.51 -14.1 11.18 0M15.84 -14.1 16.3 -13.43 16.77 -14.1 16.3 -14.77 15.84 -14.1M16.3 -9.4 16.3 0M20.03 -9.4 20.03 0M20.03 -6.71 21.42 -8.73 22.36 -9.4 23.75 -9.4 24.68 -8.73 25.15 -6.71 25.15 0M34 -14.1 34 0M34 -7.39 33.07 -8.73 32.14 -9.4 30.74 -9.4 29.81 -8.73 28.88 -7.39 28.41 -5.37 28.41 -4.03 28.88 -2.01 29.81 -0.67 30.74 0 32.14 0 33.07 -0.67 34 -2.01" stroke="#111" stroke-width="1.2" transform="translate(49 375) rotate(-90)"/>
<path d="M-66.45 -12.09 -67.38 -13.43 -68.79 -14.1 -70.66 -14.1 -72.06 -13.43 -73 -12.09 -73 -10.74 -72.53 -9.4 -72.06 -8.73 -71.13 -8.06 -68.32 -6.71 -67.38 -6.04 -66.92 -5.37 -66.45 -4.03 -66.45 -2.01 -67.38 -0.67 -68.79 0 -70.66 0 -72.06 -0.67 -73 -2.01M-63.17 -9.4 -63.17 4.7M-63.17 -7.39 -62.24 -8.73 -61.3 -9.4 -59.9 -9.4 -58.96 -8.73 -58.03 -7.39 -57.56 -5.37 -57.56 -4.03 -58.03 -2.01 -58.96 -0.67 -59.9 0 -61.3 0 -62.24 -0.67 -63.17 -2.01M-54.75 -5.37 -49.13 -5.37 -49.13 -6.71 -49.6 -8.06 -50.07 -8.73 -51.01 -9.4 -52.41 -9.4 -53.35 -8.73 -54.28 -7.39 -54.75 -5.37 -54.75 -4.03 -54.28 -2.01 -53.35 -0.67 -52.41 0 -51.01 0 -50.07 -0.67 -49.13 -2.01M-46.33 -5.37 -40.71 -5.37 -40.71 -6.71 -41.18 -8.06 -41.65 -8.73 -42.58 -9.4 -43.99 -9.4 -44.92 -8.73 -45.86 -7.39 -46.33 -5.37 -46.33 -4.03 -45.86 -2.01 -44.92 -0.67 -43.99 0 -42.58 0 -41.65 -0.67 -40.71 -2.01M-32.29 -14.1 -32.29 0M-32.29 -7.39 -33.22 -8.73 -34.16 -9.4 -35.56 -9.4 -36.5 -8.73 -37.44 -7.39 -37.9 -5.37 -37.9 -4.03 -37.44 -2.01 -36.5 -0.67 -35.56 0 -34.16 0 -33.22 -0.67 -32.29 -2.01M-15.91 -9.4 -15.91 0M-15.91 -7.39 -16.85 -8.73 -17.78 -9.4 -19.19 -9.4 -20.12 -8.73 -21.06 -7.39 -21.53 -5.37 -21.53 -4.03 -21.06 -2.01 -20.12 -0.67 -19.19 0 -17.78 0 -16.85 -0.67 -15.91 -2.01M-12.17 -9.4 -12.17 0M-12.17 -6.71 -10.76 -8.73 -9.83 -9.4 -8.42 -9.4 -7.49 -8.73 -7.02 -6.71 -7.02 0M1.87 -14.1 1.87 0M1.87 -7.39 0.94 -8.73 0 -9.4 -1.4 -9.4 -2.34 -8.73 -3.28 -7.39 -3.74 -5.37 -3.74 -4.03 -3.28 -2.01 -2.34 -0.67 -1.4 0 0 0 0.94 -0.67 1.87 -2.01M13.1 -14.1 13.1 0M13.1 -14.1 16.38 -14.1 17.78 -13.43 18.72 -12.09 19.19 -10.74 19.65 -8.73 19.65 -5.37 19.19 -3.36 18.72 -2.01 17.78 -0.67 16.38 0 13.1 0M22.46 -14.1 22.93 -13.43 23.4 -14.1 22.93 -14.77 22.46 -14.1M22.93 -9.4 22.93 0M26.67 -9.4 26.67 0M26.67 -5.37 27.14 -7.39 28.08 -8.73 29.01 -9.4 30.42 -9.4M32.29 -5.37 37.9 -5.37 37.9 -6.71 37.44 -8.06 36.97 -8.73 36.03 -9.4 34.63 -9.4 33.69 -8.73 32.76 -7.39 32.29 -5.37 32.29 -4.03 32.76 -2.01 33.69 -0.67 34.63 0 36.03 0 36.97 -0.67 37.9 -2.01M46.33 -7.39 45.39 -8.73 44.46 -9.4 43.05 -9.4 42.12 -8.73 41.18 -7.39 40.71 -5.37 40.71 -4.03 41.18 -2.01 42.12 -0.67 43.05 0 44.46 0 45.39 -0.67 46.33 -2.01M50.07 -14.1 50.07 -2.69 50.54 -0.67 51.47 0 52.41 0M48.67 -9.4 51.94 -9.4M54.75 -14.1 55.22 -13.43 55.69 -14.1 55.22 -14.77 54.75 -14.1M55.22 -9.4 55.22 0M60.83 -9.4 59.9 -8.73 58.96 -7.39 58.49 -5.37 58.49 -4.03 58.96 -2.01 59.9 -0.67 60.83 0 62.24 0 63.17 -0.67 64.11 -2.01 64.58 -4.03 64.58 -5.37 64.11 -7.39 63.17 -8.73 62.24 -9.4 60.83 -9.4M67.85 -9.4 67.85 0M67.85 -6.71 69.26 -8.73 70.19 -9.4 71.6 -9.4 72.53 -8.73 73 -6.71 73 0" stroke="#00dc00" stroke-width="1.2" transform="translate(72 368) rotate(-90)"/>
<path d="M-17.28 -16.79 -18.2 -15.44 -19.12 -13.43 -20.04 -10.74 -20.5 -7.39 -20.5 -4.7 -20.04 -1.34 -19.12 1.34 -18.2 3.36 -17.28 4.7M-14.05 -9.4 -14.05 0M-14.05 -6.71 -12.67 -8.73 -11.75 -9.4 -10.37 -9.4 -9.44 -8.73 -8.98 -6.71 -8.98 0M-8.98 -6.71 -7.6 -8.73 -6.68 -9.4 -5.3 -9.4 -4.38 -8.73 -3.92 -6.71 -3.92 0M7.14 -16.79 -1.15 4.7M14.51 -7.39 14.05 -8.73 12.67 -9.4 11.29 -9.4 9.9 -8.73 9.44 -7.39 9.9 -6.04 10.83 -5.37 13.13 -4.7 14.05 -4.03 14.51 -2.69 14.51 -2.01 14.05 -0.67 12.67 0 11.29 0 9.9 -0.67 9.44 -2.01M17.28 -16.79 18.2 -15.44 19.12 -13.43 20.04 -10.74 20.5 -7.39 20.5 -4.7 20.04 -1.34 19.12 1.34 18.2 3.36 17.28 4.7" stroke="#111" stroke-width="1.2" transform="translate(102 368.5) rotate(-90)"/>
<path d="M-32.54 -10.74 -32.54 -11.41 -32.08 -12.76 -31.62 -13.43 -30.69 -14.1 -28.85 -14.1 -27.92 -13.43 -27.46 -12.76 -27 -11.41 -27 -10.07 -27.46 -8.73 -28.38 -6.71 -33 0 -26.54 0M-23.31 -9.4 -23.31 0M-23.31 -6.71 -21.92 -8.73 -21 -9.4 -19.62 -9.4 -18.69 -8.73 -18.23 -6.71 -18.23 0M-18.23 -6.71 -16.85 -8.73 -15.92 -9.4 -14.54 -9.4 -13.62 -8.73 -13.15 -6.71 -13.15 0M-0.23 -14.1 -0.23 0M-3.46 -14.1 3 -14.1M4.85 -5.37 10.38 -5.37 10.38 -6.71 9.92 -8.06 9.46 -8.73 8.54 -9.4 7.15 -9.4 6.23 -8.73 5.31 -7.39 4.85 -5.37 4.85 -4.03 5.31 -2.01 6.23 -0.67 7.15 0 8.54 0 9.46 -0.67 10.38 -2.01M13.62 -9.4 13.62 0M13.62 -6.71 15 -8.73 15.92 -9.4 17.31 -9.4 18.23 -8.73 18.69 -6.71 18.69 0M18.69 -6.71 20.08 -8.73 21 -9.4 22.38 -9.4 23.31 -8.73 23.77 -6.71 23.77 0M27.46 -9.4 27.46 4.7M27.46 -7.39 28.38 -8.73 29.31 -9.4 30.69 -9.4 31.62 -8.73 32.54 -7.39 33 -5.37 33 -4.03 32.54 -2.01 31.62 -0.67 30.69 0 29.31 0 28.38 -0.67 27.46 -2.01" stroke="#fa3c3c" stroke-width="1.2" transform="translate(49 531) rotate(-90)"/>
<path d="M-28.88 -12.09 -29.81 -13.43 -31.21 -14.1 -33.07 -14.1 -34.47 -13.43 -35.4 -12.09 -35.4 -10.74 -34.93 -9.4 -34.47 -8.73 -33.54 -8.06 -30.74 -6.71 -29.81 -6.04 -29.34 -5.37 -28.88 -4.03 -28.88 -2.01 -29.81 -0.67 -31.21 0 -33.07 0 -34.47 -0.67 -35.4 -2.01M-25.62 -14.1 -25.62 0M-25.62 -14.1 -19.56 -14.1M-25.62 -7.39 -21.89 -7.39M-10.71 -10.74 -11.18 -12.09 -12.11 -13.43 -13.04 -14.1 -14.91 -14.1 -15.84 -13.43 -16.77 -12.09 -17.23 -10.74 -17.7 -8.73 -17.7 -5.37 -17.23 -3.36 -16.77 -2.01 -15.84 -0.67 -14.91 0 -13.04 0 -12.11 -0.67 -11.18 -2.01 -10.71 -3.36M1.86 -14.1 1.86 0M-1.4 -14.1 5.12 -14.1M6.99 -5.37 12.58 -5.37 12.58 -6.71 12.11 -8.06 11.64 -8.73 10.71 -9.4 9.32 -9.4 8.38 -8.73 7.45 -7.39 6.99 -5.37 6.99 -4.03 7.45 -2.01 8.38 -0.67 9.32 0 10.71 0 11.64 -0.67 12.58 -2.01M15.84 -9.4 15.84 0M15.84 -6.71 17.23 -8.73 18.17 -9.4 19.56 -9.4 20.49 -8.73 20.96 -6.71 20.96 0M20.96 -6.71 22.36 -8.73 23.29 -9.4 24.69 -9.4 25.62 -8.73 26.08 -6.71 26.08 0M29.81 -9.4 29.81 4.7M29.81 -7.39 30.74 -8.73 31.67 -9.4 33.07 -9.4 34 -8.73 34.93 -7.39 35.4 -5.37 35.4 -4.03 34.93 -2.01 34 -0.67 33.07 0 31.67 0 30.74 -0.67 29.81 -2.01" stroke="#e6af2d" stroke-width="1.2" transform="translate(72 527) rotate(-90)"/>
<path d="M-36.75 -14.1 -36.75 0M-36.75 -7.39 -37.68 -8.73 -38.6 -9.4 -39.99 -9.4 -40.91 -8.73 -41.84 -7.39 -42.3 -5.37 -42.3 -4.03 -41.84 -2.01 -40.91 -0.67 -39.99 0 -38.6 0 -37.68 -0.67 -36.75 -2.01M-33.52 -5.37 -27.97 -5.37 -27.97 -6.71 -28.43 -8.06 -28.89 -8.73 -29.82 -9.4 -31.2 -9.4 -32.13 -8.73 -33.05 -7.39 -33.52 -5.37 -33.52 -4.03 -33.05 -2.01 -32.13 -0.67 -31.2 0 -29.82 0 -28.89 -0.67 -27.97 -2.01M-25.2 -9.4 -23.35 0M-21.5 -9.4 -23.35 0M-21.5 -9.4 -19.65 0M-17.8 -9.4 -19.65 0M-14.56 -9.4 -14.56 4.7M-14.56 -7.39 -13.64 -8.73 -12.71 -9.4 -11.33 -9.4 -10.4 -8.73 -9.48 -7.39 -9.01 -5.37 -9.01 -4.03 -9.48 -2.01 -10.4 -0.67 -11.33 0 -12.71 0 -13.64 -0.67 -14.56 -2.01M-5.32 -14.1 -5.32 -2.69 -4.85 -0.67 -3.93 0 -3 0M-6.7 -9.4 -3.47 -9.4M9.01 -14.1 9.01 0M5.78 -14.1 12.25 -14.1M14.1 -5.37 19.65 -5.37 19.65 -6.71 19.19 -8.06 18.72 -8.73 17.8 -9.4 16.41 -9.4 15.49 -8.73 14.56 -7.39 14.1 -5.37 14.1 -4.03 14.56 -2.01 15.49 -0.67 16.41 0 17.8 0 18.72 -0.67 19.65 -2.01M22.88 -9.4 22.88 0M22.88 -6.71 24.27 -8.73 25.2 -9.4 26.58 -9.4 27.51 -8.73 27.97 -6.71 27.97 0M27.97 -6.71 29.36 -8.73 30.28 -9.4 31.67 -9.4 32.59 -8.73 33.05 -6.71 33.05 0M36.75 -9.4 36.75 4.7M36.75 -7.39 37.68 -8.73 38.6 -9.4 39.99 -9.4 40.91 -8.73 41.84 -7.39 42.3 -5.37 42.3 -4.03 41.84 -2.01 40.91 -0.67 39.99 0 38.6 0 37.68 -0.67 36.75 -2.01" stroke="#00dc00" stroke-width="1.2" transform="translate(96 526.7) rotate(-90)"/>
<path d="M-6.91 -16.79 -7.94 -15.44 -8.96 -13.43 -9.99 -10.74 -10.5 -7.39 -10.5 -4.7 -9.99 -1.34 -8.96 1.34 -7.94 3.36 -6.91 4.7M3.84 -10.74 3.33 -12.09 2.3 -13.43 1.28 -14.1 -0.77 -14.1 -1.79 -13.43 -2.82 -12.09 -3.33 -10.74 -3.84 -8.73 -3.84 -5.37 -3.33 -3.36 -2.82 -2.01 -1.79 -0.67 -0.77 0 1.28 0 2.3 -0.67 3.33 -2.01 3.84 -3.36M6.91 -16.79 7.94 -15.44 8.96 -13.43 9.99 -10.74 10.5 -7.39 10.5 -4.7 9.99 -1.34 8.96 1.34 7.94 3.36 6.91 4.7" stroke="#111" stroke-width="1.2" transform="translate(119 522.5) rotate(-90)"/>
<path d="M-40.74 -14.1 -40.74 0M-44 -14.1 -37.48 -14.1M-33.29 -9.4 -34.22 -8.73 -35.15 -7.39 -35.62 -5.37 -35.62 -4.03 -35.15 -2.01 -34.22 -0.67 -33.29 0 -31.89 0 -30.96 -0.67 -30.03 -2.01 -29.57 -4.03 -29.57 -5.37 -30.03 -7.39 -30.96 -8.73 -31.89 -9.4 -33.29 -9.4M-25.84 -14.1 -25.84 -2.69 -25.38 -0.67 -24.44 0 -23.51 0M-27.24 -9.4 -23.98 -9.4M-15.6 -9.4 -15.6 0M-15.6 -7.39 -16.53 -8.73 -17.46 -9.4 -18.86 -9.4 -19.79 -8.73 -20.72 -7.39 -21.19 -5.37 -21.19 -4.03 -20.72 -2.01 -19.79 -0.67 -18.86 0 -17.46 0 -16.53 -0.67 -15.6 -2.01M-11.87 -14.1 -11.87 0M5.82 -10.74 5.35 -12.09 4.42 -13.43 3.49 -14.1 1.63 -14.1 0.7 -13.43 -0.23 -12.09 -0.7 -10.74 -1.16 -8.73 -1.16 -5.37 -0.7 -3.36 -0.23 -2.01 0.7 -0.67 1.63 0 3.49 0 4.42 -0.67 5.35 -2.01 5.82 -3.36M9.08 -14.1 9.08 0M14.67 -9.4 13.74 -8.73 12.8 -7.39 12.34 -5.37 12.34 -4.03 12.8 -2.01 13.74 -0.67 14.67 0 16.06 0 16.99 -0.67 17.93 -2.01 18.39 -4.03 18.39 -5.37 17.93 -7.39 16.99 -8.73 16.06 -9.4 14.67 -9.4M21.65 -9.4 21.65 -2.69 22.12 -0.67 23.05 0 24.44 0 25.38 -0.67 26.77 -2.69M26.77 -9.4 26.77 0M35.62 -14.1 35.62 0M35.62 -7.39 34.69 -8.73 33.76 -9.4 32.36 -9.4 31.43 -8.73 30.5 -7.39 30.03 -5.37 30.03 -4.03 30.5 -2.01 31.43 -0.67 32.36 0 33.76 0 34.69 -0.67 35.62 -2.01M44 -7.39 43.53 -8.73 42.14 -9.4 40.74 -9.4 39.34 -8.73 38.88 -7.39 39.34 -6.04 40.28 -5.37 42.6 -4.7 43.53 -4.03 44 -2.69 44 -2.01 43.53 -0.67 42.14 0 40.74 0 39.34 -0.67 38.88 -2.01" stroke="#00a0ff" stroke-width="1.2" transform="translate(25.6 677) rotate(-90)"/>
<path d="M-40 -14.1 -40 0M-40 0 -34.35 0M-30.12 -9.4 -31.06 -8.73 -32 -7.39 -32.47 -5.37 -32.47 -4.03 -32 -2.01 -31.06 -0.67 -30.12 0 -28.71 0 -27.76 -0.67 -26.82 -2.01 -26.35 -4.03 -26.35 -5.37 -26.82 -7.39 -27.76 -8.73 -28.71 -9.4 -30.12 -9.4M-23.53 -9.4 -21.65 0M-19.76 -9.4 -21.65 0M-19.76 -9.4 -17.88 0M-16 -9.4 -17.88 0M1.41 -10.74 0.94 -12.09 0 -13.43 -0.94 -14.1 -2.82 -14.1 -3.76 -13.43 -4.71 -12.09 -5.18 -10.74 -5.65 -8.73 -5.65 -5.37 -5.18 -3.36 -4.71 -2.01 -3.76 -0.67 -2.82 0 -0.94 0 0 -0.67 0.94 -2.01 1.41 -3.36M4.71 -14.1 4.71 0M10.35 -9.4 9.41 -8.73 8.47 -7.39 8 -5.37 8 -4.03 8.47 -2.01 9.41 -0.67 10.35 0 11.76 0 12.71 -0.67 13.65 -2.01 14.12 -4.03 14.12 -5.37 13.65 -7.39 12.71 -8.73 11.76 -9.4 10.35 -9.4M17.41 -9.4 17.41 -2.69 17.88 -0.67 18.82 0 20.24 0 21.18 -0.67 22.59 -2.69M22.59 -9.4 22.59 0M31.53 -14.1 31.53 0M31.53 -7.39 30.59 -8.73 29.65 -9.4 28.24 -9.4 27.29 -8.73 26.35 -7.39 25.88 -5.37 25.88 -4.03 26.35 -2.01 27.29 -0.67 28.24 0 29.65 0 30.59 -0.67 31.53 -2.01M40 -7.39 39.53 -8.73 38.12 -9.4 36.71 -9.4 35.29 -8.73 34.82 -7.39 35.29 -6.04 36.24 -5.37 38.59 -4.7 39.53 -4.03 40 -2.69 40 -2.01 39.53 -0.67 38.12 0 36.71 0 35.29 -0.67 34.82 -2.01" stroke="#e6af2d" stroke-width="1.2" transform="translate(72 677) rotate(-90)"/>
<path d="M-7.16 -16.79 -8.11 -15.44 -9.07 -13.43 -10.02 -10.74 -10.5 -7.39 -10.5 -4.7 -10.02 -1.34 -9.07 1.34 -8.11 3.36 -7.16 4.7M4.3 -14.1 3.34 -13.43 1.91 -12.76 0.48 -12.76 -0.95 -13.43 -1.91 -14.1 -2.86 -14.1 -3.82 -13.43 -4.3 -12.09 -4.3 -10.74 -3.34 -9.4 -2.39 -9.4 -1.43 -10.07 -0.95 -11.41 -0.95 -12.76 -1.91 -14.1M4.3 -14.1 -4.3 0M3.34 -4.7 2.39 -4.7 1.43 -4.03 0.95 -2.69 0.95 -1.34 1.91 0 2.86 0 3.82 -0.67 4.3 -2.01 4.3 -3.36 3.34 -4.7M7.16 -16.79 8.11 -15.44 9.07 -13.43 10.02 -10.74 10.5 -7.39 10.5 -4.7 10.02 -1.34 9.07 1.34 8.11 3.36 7.16 4.7" stroke="#111" stroke-width="1.2" transform="translate(119 676.5) rotate(-90)"/>
<path d="M-60.5 -11.41 -59.57 -12.09 -58.16 -14.1 -58.16 0M-52.09 -14.1 -52.09 0M-52.09 -6.71 -50.69 -8.73 -49.75 -9.4 -48.35 -9.4 -47.42 -8.73 -46.95 -6.71 -46.95 0M-43.21 -9.4 -43.21 0M-43.21 -5.37 -42.75 -7.39 -41.81 -8.73 -40.88 -9.4 -39.48 -9.4M-29.67 -14.1 -29.67 0M-29.67 -14.1 -25.46 -14.1 -24.06 -13.43 -23.59 -12.76 -23.13 -11.41 -23.13 -9.4 -23.59 -8.06 -24.06 -7.39 -25.46 -6.71 -29.67 -6.71M-19.86 -9.4 -19.86 0M-19.86 -5.37 -19.39 -7.39 -18.45 -8.73 -17.52 -9.4 -16.12 -9.4M-14.25 -5.37 -8.64 -5.37 -8.64 -6.71 -9.11 -8.06 -9.58 -8.73 -10.51 -9.4 -11.91 -9.4 -12.85 -8.73 -13.78 -7.39 -14.25 -5.37 -14.25 -4.03 -13.78 -2.01 -12.85 -0.67 -11.91 0 -10.51 0 -9.58 -0.67 -8.64 -2.01M-0.23 -7.39 -1.17 -8.73 -2.1 -9.4 -3.5 -9.4 -4.44 -8.73 -5.37 -7.39 -5.84 -5.37 -5.84 -4.03 -5.37 -2.01 -4.44 -0.67 -3.5 0 -2.1 0 -1.17 -0.67 -0.23 -2.01M2.57 -14.1 3.04 -13.43 3.5 -14.1 3.04 -14.77 2.57 -14.1M3.04 -9.4 3.04 0M6.77 -9.4 6.77 4.7M6.77 -7.39 7.71 -8.73 8.64 -9.4 10.04 -9.4 10.98 -8.73 11.91 -7.39 12.38 -5.37 12.38 -4.03 11.91 -2.01 10.98 -0.67 10.04 0 8.64 0 7.71 -0.67 6.77 -2.01M26.4 -16.79 25.46 -15.44 24.53 -13.43 23.59 -10.74 23.13 -7.39 23.13 -4.7 23.59 -1.34 24.53 1.34 25.46 3.36 26.4 4.7M29.67 -9.4 29.67 0M29.67 -6.71 31.07 -8.73 32 -9.4 33.4 -9.4 34.34 -8.73 34.81 -6.71 34.81 0M34.81 -6.71 36.21 -8.73 37.14 -9.4 38.54 -9.4 39.48 -8.73 39.94 -6.71 39.94 0M43.68 -9.4 43.68 0M43.68 -6.71 45.08 -8.73 46.02 -9.4 47.42 -9.4 48.35 -8.73 48.82 -6.71 48.82 0M48.82 -6.71 50.22 -8.73 51.16 -9.4 52.56 -9.4 53.49 -8.73 53.96 -6.71 53.96 0M57.23 -16.79 58.16 -15.44 59.1 -13.43 60.03 -10.74 60.5 -7.39 60.5 -4.7 60.03 -1.34 59.1 1.34 58.16 3.36 57.23 4.7" stroke="#111" stroke-width="1.2" transform="translate(137 828.5) rotate(-90)"/>
<path d="M19 813.4 19 823.6M14.8 813.4 23.2 813.4M28.6 816.8 27.4 817.29 26.2 818.26 25.6 819.71 25.6 820.69 26.2 822.14 27.4 823.11 28.6 823.6 30.4 823.6 31.6 823.11 32.8 822.14 33.4 820.69 33.4 819.71 32.8 818.26 31.6 817.29 30.4 816.8 28.6 816.8M38.2 813.4 38.2 821.66 38.8 823.11 40 823.6 41.2 823.6M36.4 816.8 40.6 816.8M51.4 816.8 51.4 823.6M51.4 818.26 50.2 817.29 49 816.8 47.2 816.8 46 817.29 44.8 818.26 44.2 819.71 44.2 820.69 44.8 822.14 46 823.11 47.2 823.6 49 823.6 50.2 823.11 51.4 822.14M56.2 813.4 56.2 823.6M80.2 813.4 80.2 823.6M80.2 813.4 85.6 813.4 87.4 813.89 88 814.37 88.6 815.34 88.6 816.31 88 817.29 87.4 817.77 85.6 818.26 80.2 818.26M84.4 818.26 88.6 823.6M99.4 816.8 99.4 823.6M99.4 818.26 98.2 817.29 97 816.8 95.2 816.8 94 817.29 92.8 818.26 92.2 819.71 92.2 820.69 92.8 822.14 94 823.11 95.2 823.6 97 823.6 98.2 823.11 99.4 822.14M103.6 813.4 104.2 813.89 104.8 813.4 104.2 812.91 103.6 813.4M104.2 816.8 104.2 823.6M109 816.8 109 823.6M109 818.74 110.8 817.29 112 816.8 113.8 816.8 115 817.29 115.6 818.74 115.6 823.6" stroke="#2acf2a" stroke-width="1.2" />
<path d="M23.67 851.43 22.49 850.48 20.72 850 18.36 850 16.58 850.48 15.4 851.43 15.4 852.38 15.99 853.33 16.58 853.81 17.76 854.29 21.31 855.24 22.49 855.71 23.08 856.19 23.67 857.14 23.67 858.57 22.49 859.52 20.72 860 18.36 860 16.58 859.52 15.4 858.57M27.81 853.33 27.81 860M27.81 855.24 29.59 853.81 30.77 853.33 32.54 853.33 33.72 853.81 34.31 855.24 34.31 860M41.41 853.33 40.22 853.81 39.04 854.76 38.45 856.19 38.45 857.14 39.04 858.57 40.22 859.52 41.41 860 43.18 860 44.36 859.52 45.54 858.57 46.13 857.14 46.13 856.19 45.54 854.76 44.36 853.81 43.18 853.33 41.41 853.33M49.68 853.33 52.04 860M54.41 853.33 52.04 860M54.41 853.33 56.77 860M59.14 853.33 56.77 860M72.73 848.1 62.09 863.33M77.46 851.9 78.64 851.43 80.41 850 80.41 860M88.1 850 88.1 860M88.1 855.24 89.87 853.81 91.05 853.33 92.83 853.33 94.01 853.81 94.6 855.24 94.6 860" stroke="#4658ff" stroke-width="1.2" />
<path d="M54.1 875.86 54.1 891.4M54.1 875.86 58.27 875.86M54.1 891.4 58.27 891.4M68.99 882.66 67.8 881.69 66.61 881.2 64.82 881.2 63.63 881.69 62.44 882.66 61.84 884.11 61.84 885.09 62.44 886.54 63.63 887.51 64.82 888 66.61 888 67.8 887.51 68.99 886.54M73.16 881.2 73.16 888M73.16 883.14 74.95 881.69 76.14 881.2 77.92 881.2 79.11 881.69 79.71 883.14 79.71 888M79.71 883.14 81.5 881.69 82.69 881.2 84.47 881.2 85.67 881.69 86.26 883.14 86.26 888M94.6 875.86 94.6 891.4M90.43 875.86 94.6 875.86M90.43 891.4 94.6 891.4" stroke="#4658ff" stroke-width="1.2" />
<path d="M132.25 292.2 132.25 298.8M132.25 292.2 139.75 298.8M139.75 292.2 139.75 298.8" stroke="#b06cf0" stroke-width="0.95" />
<path d="M139.8 352.33 138.83 351.64 137.37 351.3 135.43 351.3 133.97 351.64 133 352.33 133 353.01 133.49 353.7 133.97 354.04 134.94 354.39 137.86 355.07 138.83 355.41 139.31 355.76 139.8 356.44 139.8 357.47 138.83 358.16 137.37 358.5 135.43 358.5 133.97 358.16 133 357.47" stroke="#b06cf0" stroke-width="0.95" />
<path d="M93.2 323.5 95.6 330.8M98 323.5 95.6 330.8M98 323.5 100.4 330.8M102.8 323.5 100.4 330.8" stroke="#b06cf0" stroke-width="0.95" />
<path d="M168.45 323.5 168.45 330.8M168.45 323.5 174.95 323.5M168.45 326.98 172.45 326.98M168.45 330.8 174.95 330.8" stroke="#b06cf0" stroke-width="0.95" />
<path d="M132.2 311.8L136 306.2L139.8 311.8M136 314.8V321M136 333V339.5M132.2 342.8L136 348.2L139.8 342.8M121 324.8L114 327.8L121 330.8M125 327.6H133.5M137 327.6H145.5M149.5 324.8L156.8 327.8L149.5 330.8" stroke="#b06cf0" stroke-width="0.95"/>
</svg>
</body></html>
